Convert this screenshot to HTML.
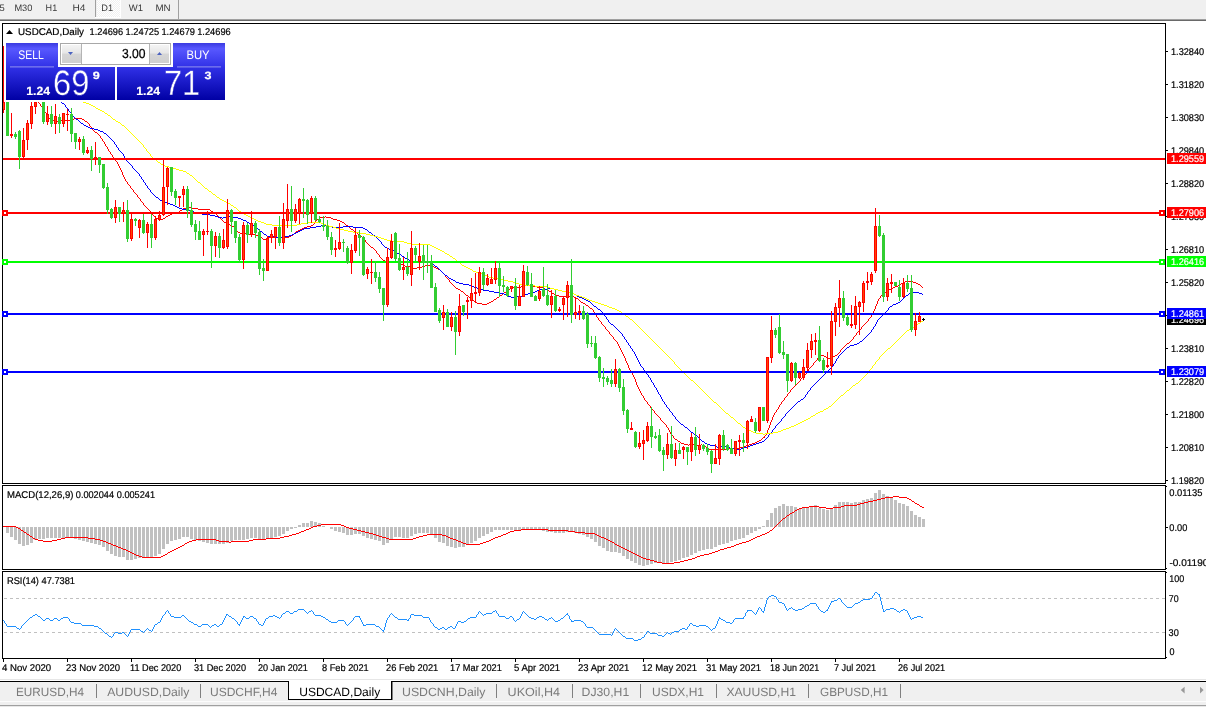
<!DOCTYPE html>
<html><head><meta charset="utf-8"><title>USDCAD,Daily</title>
<style>html,body{margin:0;padding:0;background:#fff;overflow:hidden}svg{display:block}text{white-space:pre}</style>
</head><body><svg width="1206" height="707" viewBox="0 0 1206 707" font-family="'Liberation Sans', Arial, sans-serif" text-rendering="geometricPrecision"><rect x="0" y="0" width="1206" height="19" fill="#f0f0f0"/>
<rect x="0" y="19" width="1206" height="1" fill="#a0a0a0"/>
<rect x="0" y="20" width="1206" height="1" fill="#696969"/>
<defs><pattern id="chk" width="2" height="2" patternUnits="userSpaceOnUse"><rect width="2" height="2" fill="#f0f0f0"/><rect width="1" height="1" fill="#fff"/><rect x="1" y="1" width="1" height="1" fill="#fff"/></pattern></defs>
<rect x="97" y="0" width="23" height="17" fill="url(#chk)" shape-rendering="crispEdges"/>
<rect x="95" y="17" width="26" height="1" fill="#fff" shape-rendering="crispEdges"/>
<rect x="120" y="0" width="1" height="18" fill="#fff" shape-rendering="crispEdges"/>
<rect x="95" y="0" width="1" height="17" fill="#a0a0a0"/>
<rect x="178" y="0" width="1" height="19" fill="#a0a0a0"/>
<text x="-0.5" y="10.8" font-size="9.3" fill="#3a3a3a" textLength="5.2" lengthAdjust="spacingAndGlyphs">5</text>
<text x="14.4" y="10.8" font-size="9.3" fill="#3a3a3a" textLength="18" lengthAdjust="spacingAndGlyphs">M30</text>
<text x="45.6" y="10.8" font-size="9.3" fill="#3a3a3a" textLength="11.6" lengthAdjust="spacingAndGlyphs">H1</text>
<text x="72.4" y="10.8" font-size="9.3" fill="#3a3a3a" textLength="13" lengthAdjust="spacingAndGlyphs">H4</text>
<text x="101.3" y="10.8" font-size="9.3" fill="#3a3a3a" textLength="11.8" lengthAdjust="spacingAndGlyphs">D1</text>
<text x="128.8" y="10.8" font-size="9.3" fill="#3a3a3a" textLength="14.2" lengthAdjust="spacingAndGlyphs">W1</text>
<text x="155.4" y="10.8" font-size="9.3" fill="#3a3a3a" textLength="15.2" lengthAdjust="spacingAndGlyphs">MN</text>
<g shape-rendering="crispEdges">
<path d="M33 98h2v1h-2zM35 99h1v1h-1zM36 100h1v1h-1zM37 101h1v1h-1zM38 102h1v1h-1zM39 103h1v1h-1zM40 104h1v2h-1zM41 106h1v1h-1zM42 107h1v2h-1zM43 109h1v1h-1zM44 110h1v2h-1zM45 112h1v1h-1zM46 113h1v2h-1zM47 115h1v1h-1zM48 116h1v2h-1zM49 118h2v1h-2zM51 119h1v1h-1zM52 120h4v1h-4zM56 121h5v1h-5zM61 120h9v1h-9zM70 119h4v1h-4zM74 118h8v1h-8zM82 119h2v1h-2zM84 120h1v1h-1zM85 121h2v1h-2zM87 122h1v1h-1zM88 123h1v1h-1zM89 124h1v2h-1zM90 126h1v1h-1zM91 127h1v2h-1zM92 129h1v1h-1zM93 130h1v1h-1zM94 131h1v1h-1zM95 132h2v1h-2zM97 133h1v1h-1zM98 134h1v1h-1zM99 135h1v1h-1zM100 136h1v2h-1zM101 138h1v1h-1zM102 139h1v2h-1zM103 141h1v1h-1zM104 142h1v2h-1zM105 144h1v2h-1zM106 146h1v1h-1zM107 147h1v2h-1zM108 149h1v2h-1zM109 151h1v1h-1zM110 152h1v2h-1zM111 154h1v1h-1zM112 155h1v2h-1zM113 157h1v1h-1zM114 158h1v1h-1zM115 159h1v2h-1zM116 161h1v1h-1zM117 162h1v2h-1zM118 164h1v2h-1zM119 166h1v2h-1zM120 168h1v2h-1zM121 170h1v2h-1zM122 172h1v3h-1zM123 175h1v2h-1zM124 177h1v2h-1zM125 179h1v2h-1zM126 181h1v1h-1zM127 182h1v2h-1zM128 184h1v1h-1zM129 185h1v1h-1zM130 186h1v2h-1zM131 188h1v1h-1zM132 189h1v1h-1zM133 190h1v2h-1zM134 192h1v1h-1zM135 193h1v1h-1zM136 194h1v1h-1zM137 195h1v2h-1zM138 197h1v1h-1zM139 198h1v1h-1zM140 199h1v2h-1zM141 201h1v1h-1zM142 202h1v1h-1zM143 203h1v2h-1zM144 205h1v1h-1zM145 206h1v1h-1zM146 207h1v1h-1zM147 208h1v1h-1zM148 209h1v1h-1zM149 210h1v1h-1zM150 211h1v2h-1zM151 213h1v1h-1zM152 214h1v1h-1zM153 215h1v1h-1zM154 216h1v1h-1zM155 217h1v1h-1zM156 218h2v1h-2zM158 219h5v1h-5zM163 218h2v1h-2zM165 217h1v1h-1zM166 216h2v1h-2zM168 215h2v1h-2zM170 214h2v1h-2zM172 213h4v1h-4zM176 212h3v1h-3zM179 211h1v1h-1zM180 210h2v1h-2zM182 209h1v1h-1zM183 208h3v1h-3zM186 207h5v1h-5zM191 208h7v1h-7zM198 209h12v1h-12zM210 210h1v1h-1zM211 211h2v1h-2zM213 212h2v1h-2zM215 213h1v1h-1zM216 214h1v1h-1zM217 215h1v1h-1zM218 216h1v1h-1zM219 217h1v1h-1zM220 218h1v1h-1zM221 219h1v1h-1zM222 220h1v1h-1zM223 221h1v1h-1zM224 222h3v1h-3zM227 223h1v1h-1zM228 224h2v1h-2zM230 225h1v1h-1zM231 226h3v1h-3zM234 227h1v1h-1zM235 228h1v1h-1zM236 229h1v2h-1zM237 231h1v1h-1zM238 232h2v1h-2zM240 233h8v1h-8zM248 234h8v1h-8zM256 235h3v1h-3zM259 236h2v1h-2zM261 237h1v1h-1zM262 238h1v1h-1zM263 239h4v1h-4zM267 238h1v1h-1zM268 237h21v1h-21zM289 236h2v1h-2zM291 235h2v1h-2zM293 234h1v1h-1zM294 233h1v1h-1zM295 232h1v1h-1zM296 231h2v1h-2zM298 230h2v1h-2zM300 229h2v1h-2zM302 228h2v1h-2zM304 227h3v1h-3zM307 226h4v1h-4zM311 225h2v1h-2zM313 224h1v1h-1zM314 223h1v1h-1zM315 221h1v2h-1zM316 220h1v1h-1zM317 219h2v1h-2zM319 218h1v1h-1zM320 217h5v1h-5zM325 216h1v1h-1zM326 217h5v1h-5zM331 218h2v1h-2zM333 219h4v1h-4zM337 220h3v1h-3zM340 221h2v1h-2zM342 222h2v1h-2zM344 223h1v1h-1zM345 224h1v1h-1zM346 225h2v1h-2zM348 226h1v1h-1zM349 227h1v1h-1zM350 228h1v1h-1zM351 229h2v1h-2zM353 230h1v1h-1zM354 231h1v1h-1zM355 232h2v1h-2zM357 233h1v1h-1zM358 234h2v1h-2zM360 235h1v1h-1zM361 236h1v1h-1zM362 237h1v1h-1zM363 238h1v1h-1zM364 239h1v1h-1zM365 240h1v2h-1zM366 242h1v1h-1zM367 243h1v1h-1zM368 244h1v1h-1zM369 245h1v1h-1zM370 246h1v1h-1zM371 247h2v1h-2zM373 248h1v1h-1zM374 249h1v1h-1zM375 250h1v1h-1zM376 251h1v2h-1zM377 253h1v1h-1zM378 254h1v1h-1zM379 255h1v2h-1zM380 257h1v1h-1zM381 258h1v1h-1zM382 259h1v1h-1zM383 260h2v1h-2zM385 261h11v1h-11zM396 262h3v1h-3zM399 263h2v1h-2zM401 264h2v1h-2zM403 265h2v1h-2zM405 266h5v1h-5zM410 267h2v1h-2zM412 268h5v1h-5zM417 267h5v1h-5zM422 266h3v1h-3zM425 265h7v1h-7zM432 266h2v1h-2zM434 267h2v1h-2zM436 268h2v1h-2zM438 269h2v1h-2zM440 270h1v1h-1zM441 271h1v1h-1zM442 272h1v1h-1zM443 273h1v1h-1zM444 274h1v1h-1zM445 275h1v2h-1zM446 277h1v1h-1zM447 278h1v1h-1zM448 279h1v1h-1zM449 280h1v2h-1zM450 282h1v1h-1zM451 283h1v1h-1zM452 284h1v1h-1zM453 285h1v1h-1zM454 286h1v1h-1zM455 287h1v1h-1zM456 288h2v1h-2zM458 289h2v1h-2zM460 290h1v1h-1zM461 291h2v1h-2zM463 292h1v1h-1zM464 293h1v1h-1zM465 294h1v1h-1zM466 295h2v1h-2zM468 296h1v1h-1zM469 297h1v1h-1zM470 298h1v1h-1zM471 299h1v1h-1zM472 300h2v1h-2zM474 301h1v1h-1zM475 302h2v1h-2zM477 303h5v1h-5zM482 304h5v1h-5zM487 303h2v1h-2zM489 302h2v1h-2zM491 301h2v1h-2zM493 300h1v1h-1zM494 299h2v1h-2zM496 298h1v1h-1zM497 297h2v1h-2zM499 296h1v1h-1zM500 295h2v1h-2zM502 294h1v1h-1zM503 293h1v1h-1zM504 292h2v1h-2zM506 291h1v1h-1zM507 290h1v1h-1zM508 289h2v1h-2zM510 288h2v1h-2zM512 287h9v1h-9zM521 286h3v1h-3zM524 285h9v1h-9zM533 286h4v1h-4zM537 287h6v1h-6zM543 288h2v1h-2zM545 289h2v1h-2zM547 290h2v1h-2zM549 291h2v1h-2zM551 292h1v1h-1zM552 293h2v1h-2zM554 294h2v1h-2zM556 295h3v1h-3zM559 296h15v1h-15zM574 297h2v1h-2zM576 298h2v1h-2zM578 299h1v1h-1zM579 300h1v1h-1zM580 301h1v1h-1zM581 302h2v1h-2zM583 303h2v1h-2zM585 304h1v1h-1zM586 305h2v1h-2zM588 306h1v1h-1zM589 307h1v1h-1zM590 308h2v1h-2zM592 309h1v1h-1zM593 310h1v2h-1zM594 312h1v2h-1zM595 314h1v1h-1zM596 315h1v2h-1zM597 317h1v1h-1zM598 318h1v2h-1zM599 320h1v1h-1zM600 321h1v1h-1zM601 322h1v2h-1zM602 324h1v1h-1zM603 325h1v1h-1zM604 326h1v1h-1zM605 327h1v2h-1zM606 329h1v1h-1zM607 330h1v1h-1zM608 331h1v1h-1zM609 332h1v2h-1zM610 334h1v1h-1zM611 335h1v1h-1zM612 336h1v1h-1zM613 337h1v2h-1zM614 339h1v1h-1zM615 340h1v1h-1zM616 341h1v1h-1zM617 342h1v2h-1zM618 344h1v2h-1zM619 346h1v2h-1zM620 348h1v2h-1zM621 350h1v2h-1zM622 352h1v2h-1zM623 354h1v2h-1zM624 356h1v2h-1zM625 358h1v3h-1zM626 361h1v2h-1zM627 363h1v2h-1zM628 365h1v3h-1zM629 368h1v2h-1zM630 370h1v2h-1zM631 372h1v1h-1zM632 373h1v2h-1zM633 375h1v2h-1zM634 377h1v2h-1zM635 379h1v3h-1zM636 382h1v3h-1zM637 385h1v2h-1zM638 387h1v2h-1zM639 389h1v2h-1zM640 391h1v2h-1zM641 393h1v2h-1zM642 395h1v1h-1zM643 396h1v2h-1zM644 398h1v2h-1zM645 400h1v1h-1zM646 401h1v1h-1zM647 402h1v2h-1zM648 404h1v1h-1zM649 405h1v1h-1zM650 406h1v2h-1zM651 408h1v1h-1zM652 409h1v1h-1zM653 410h1v1h-1zM654 411h1v2h-1zM655 413h1v1h-1zM656 414h1v1h-1zM657 415h1v1h-1zM658 416h1v1h-1zM659 417h1v1h-1zM660 418h1v2h-1zM661 420h1v1h-1zM662 421h1v1h-1zM663 422h1v1h-1zM664 423h1v1h-1zM665 424h1v1h-1zM666 425h1v2h-1zM667 427h1v1h-1zM668 428h1v2h-1zM669 430h1v2h-1zM670 432h1v2h-1zM671 434h1v1h-1zM672 435h1v1h-1zM673 436h1v2h-1zM674 438h1v1h-1zM675 439h2v1h-2zM677 440h1v1h-1zM678 441h2v1h-2zM680 442h1v1h-1zM681 443h3v1h-3zM684 444h4v1h-4zM688 445h1v1h-1zM689 444h5v1h-5zM694 445h7v1h-7zM701 444h1v1h-1zM702 445h2v1h-2zM704 446h2v1h-2zM706 447h1v1h-1zM707 448h2v1h-2zM709 449h20v1h-20zM729 448h11v1h-11zM740 447h3v1h-3zM743 446h3v1h-3zM746 445h3v1h-3zM749 444h3v1h-3zM752 443h3v1h-3zM755 442h2v1h-2zM757 441h2v1h-2zM759 440h2v1h-2zM761 439h1v1h-1zM762 438h1v1h-1zM763 437h1v1h-1zM764 436h1v2h-1zM765 435h1v1h-1zM766 433h1v2h-1zM767 430h1v3h-1zM768 428h1v2h-1zM769 425h1v3h-1zM770 422h1v3h-1zM771 420h1v2h-1zM772 417h1v3h-1zM773 415h1v2h-1zM774 413h1v2h-1zM775 412h1v1h-1zM776 410h1v2h-1zM777 409h1v1h-1zM778 407h1v2h-1zM779 405h1v2h-1zM780 404h1v1h-1zM781 402h1v2h-1zM782 401h1v1h-1zM783 400h1v1h-1zM784 398h1v2h-1zM785 397h1v1h-1zM786 396h1v1h-1zM787 394h1v2h-1zM788 393h1v1h-1zM789 392h1v1h-1zM790 390h1v2h-1zM791 389h1v1h-1zM792 388h1v1h-1zM793 387h1v1h-1zM794 386h1v1h-1zM795 385h1v1h-1zM796 384h1v1h-1zM797 383h1v1h-1zM798 382h1v1h-1zM799 381h1v1h-1zM800 379h1v2h-1zM801 378h1v1h-1zM802 377h1v1h-1zM803 376h1v1h-1zM804 375h1v1h-1zM805 374h1v1h-1zM806 372h1v2h-1zM807 371h1v1h-1zM808 369h1v2h-1zM809 368h1v1h-1zM810 367h1v1h-1zM811 366h1v1h-1zM812 365h1v1h-1zM813 363h1v2h-1zM814 362h1v1h-1zM815 361h1v1h-1zM816 360h1v1h-1zM817 358h1v2h-1zM818 357h1v1h-1zM819 356h1v1h-1zM820 355h4v1h-4zM824 356h2v1h-2zM826 357h1v1h-1zM827 358h5v1h-5zM832 357h1v1h-1zM833 356h2v1h-2zM835 355h2v1h-2zM837 354h1v1h-1zM838 353h1v1h-1zM839 352h1v1h-1zM840 350h1v2h-1zM841 349h1v1h-1zM842 348h1v1h-1zM843 347h1v1h-1zM844 346h1v1h-1zM845 345h1v1h-1zM846 344h1v1h-1zM847 343h2v1h-2zM849 342h1v1h-1zM850 341h1v1h-1zM851 340h1v1h-1zM852 339h1v1h-1zM853 337h1v2h-1zM854 336h1v1h-1zM855 335h1v1h-1zM856 333h1v2h-1zM857 332h1v1h-1zM858 331h1v1h-1zM859 330h1v1h-1zM860 329h1v1h-1zM861 327h1v2h-1zM862 326h1v1h-1zM863 325h1v1h-1zM864 324h1v1h-1zM865 323h1v1h-1zM866 322h1v1h-1zM867 321h1v1h-1zM868 319h1v2h-1zM869 318h1v1h-1zM870 317h1v1h-1zM871 315h1v2h-1zM872 313h1v2h-1zM873 311h1v2h-1zM874 309h1v2h-1zM875 306h1v3h-1zM876 304h1v2h-1zM877 301h1v3h-1zM878 299h1v2h-1zM879 298h1v1h-1zM880 296h1v2h-1zM881 295h1v1h-1zM882 294h2v1h-2zM884 293h1v1h-1zM885 292h1v1h-1zM886 291h2v1h-2zM888 290h1v1h-1zM889 289h2v1h-2zM891 288h2v1h-2zM893 287h2v1h-2zM895 286h3v1h-3zM898 285h2v1h-2zM900 284h1v1h-1zM901 283h2v1h-2zM903 282h2v1h-2zM905 281h8v1h-8zM913 282h3v1h-3zM916 283h2v1h-2zM918 284h2v1h-2zM920 285h1v1h-1zM921 286h1v1h-1zM922 287h1v1h-1z" fill="#ff0000"/>
<path d="M56 98h1v1h-1zM57 99h2v1h-2zM59 100h1v1h-1zM60 101h1v1h-1zM61 102h1v1h-1zM62 103h2v1h-2zM64 104h1v1h-1zM65 105h1v2h-1zM66 107h1v1h-1zM67 108h1v1h-1zM68 109h1v2h-1zM69 111h1v1h-1zM70 112h1v1h-1zM71 113h1v1h-1zM72 114h1v2h-1zM73 116h1v1h-1zM74 117h1v1h-1zM75 118h1v1h-1zM76 119h2v1h-2zM78 120h1v1h-1zM79 121h1v1h-1zM80 122h1v1h-1zM81 123h2v1h-2zM83 124h1v1h-1zM84 125h2v1h-2zM86 126h2v1h-2zM88 127h2v1h-2zM90 128h4v1h-4zM94 129h4v1h-4zM98 130h2v1h-2zM100 131h3v1h-3zM103 132h1v1h-1zM104 133h2v1h-2zM106 134h1v1h-1zM107 135h1v1h-1zM108 136h1v1h-1zM109 137h1v1h-1zM110 138h1v1h-1zM111 139h1v1h-1zM112 140h1v1h-1zM113 141h1v1h-1zM114 142h1v2h-1zM115 144h1v1h-1zM116 145h1v2h-1zM117 147h1v1h-1zM118 148h1v2h-1zM119 150h1v1h-1zM120 151h1v1h-1zM121 152h1v1h-1zM122 153h1v1h-1zM123 154h1v2h-1zM124 156h1v2h-1zM125 158h1v1h-1zM126 159h1v2h-1zM127 161h1v1h-1zM128 162h1v1h-1zM129 163h1v1h-1zM130 164h1v1h-1zM131 165h1v1h-1zM132 166h1v2h-1zM133 168h1v1h-1zM134 169h1v1h-1zM135 170h1v1h-1zM136 171h1v1h-1zM137 172h1v1h-1zM138 173h1v1h-1zM139 174h1v2h-1zM140 176h1v1h-1zM141 177h1v2h-1zM142 179h1v1h-1zM143 180h1v2h-1zM144 182h1v1h-1zM145 183h1v2h-1zM146 185h1v1h-1zM147 186h1v2h-1zM148 188h1v1h-1zM149 189h1v1h-1zM150 190h1v2h-1zM151 192h1v1h-1zM152 193h1v1h-1zM153 194h1v1h-1zM154 195h1v1h-1zM155 196h1v1h-1zM156 197h2v1h-2zM158 198h1v1h-1zM159 199h1v1h-1zM160 200h3v1h-3zM163 201h2v1h-2zM165 202h3v1h-3zM168 203h2v1h-2zM170 204h3v1h-3zM173 205h2v1h-2zM175 206h2v1h-2zM177 207h2v1h-2zM179 208h3v1h-3zM182 209h4v1h-4zM186 210h4v1h-4zM190 211h4v1h-4zM194 212h4v1h-4zM198 213h4v1h-4zM202 214h8v1h-8zM210 215h5v1h-5zM215 216h3v1h-3zM218 217h4v1h-4zM222 218h1v1h-1zM223 217h6v1h-6zM229 216h3v1h-3zM232 217h6v1h-6zM238 218h3v1h-3zM241 219h2v1h-2zM243 220h3v1h-3zM246 221h1v1h-1zM247 222h2v1h-2zM249 223h1v1h-1zM250 224h2v1h-2zM252 225h2v1h-2zM254 226h1v1h-1zM255 227h1v1h-1zM256 228h2v1h-2zM258 229h1v1h-1zM259 230h1v1h-1zM260 231h2v1h-2zM262 232h1v1h-1zM263 233h1v1h-1zM264 234h2v1h-2zM266 235h1v1h-1zM267 236h8v1h-8zM275 237h7v1h-7zM282 236h7v1h-7zM289 235h3v1h-3zM292 234h2v1h-2zM294 233h2v1h-2zM296 232h2v1h-2zM298 231h2v1h-2zM300 230h2v1h-2zM302 229h2v1h-2zM304 228h6v1h-6zM310 227h6v1h-6zM316 226h5v1h-5zM321 225h5v1h-5zM326 226h6v1h-6zM332 227h11v1h-11zM343 226h10v1h-10zM353 227h10v1h-10zM363 228h2v1h-2zM365 229h2v1h-2zM367 230h1v1h-1zM368 231h1v1h-1zM369 232h2v1h-2zM371 233h1v1h-1zM372 234h1v1h-1zM373 235h2v1h-2zM375 236h1v1h-1zM376 237h1v1h-1zM377 238h1v1h-1zM378 239h1v1h-1zM379 240h1v1h-1zM380 241h1v1h-1zM381 242h1v2h-1zM382 244h1v1h-1zM383 245h1v1h-1zM384 246h1v1h-1zM385 247h2v1h-2zM387 248h2v1h-2zM389 249h4v1h-4zM393 250h2v1h-2zM395 251h1v1h-1zM396 252h1v1h-1zM397 253h2v1h-2zM399 254h2v1h-2zM401 255h1v1h-1zM402 256h2v1h-2zM404 257h1v1h-1zM405 258h2v1h-2zM407 259h2v1h-2zM409 260h3v1h-3zM412 261h14v1h-14zM426 262h4v1h-4zM430 263h3v1h-3zM433 264h1v1h-1zM434 265h1v1h-1zM435 266h2v1h-2zM437 267h1v1h-1zM438 268h1v1h-1zM439 269h1v1h-1zM440 270h1v1h-1zM441 271h1v1h-1zM442 272h1v1h-1zM443 273h1v1h-1zM444 274h1v1h-1zM445 275h2v1h-2zM447 276h1v1h-1zM448 277h1v1h-1zM449 278h2v1h-2zM451 279h2v1h-2zM453 280h2v1h-2zM455 281h1v1h-1zM456 282h3v1h-3zM459 283h4v1h-4zM463 284h6v1h-6zM469 285h3v1h-3zM472 286h2v1h-2zM474 287h3v1h-3zM477 288h3v1h-3zM480 289h3v1h-3zM483 290h6v1h-6zM489 291h5v1h-5zM494 292h6v1h-6zM500 293h4v1h-4zM504 294h2v1h-2zM506 295h2v1h-2zM508 296h3v1h-3zM511 297h6v1h-6zM517 296h5v1h-5zM522 295h3v1h-3zM525 294h3v1h-3zM528 293h3v1h-3zM531 292h4v1h-4zM535 291h2v1h-2zM537 290h3v1h-3zM540 289h8v1h-8zM548 288h3v1h-3z" fill="#0000ff"/>
<path d="M577 296h2v1h-2zM579 297h3v1h-3zM582 298h2v1h-2zM584 299h2v1h-2zM586 300h2v1h-2zM588 301h2v1h-2zM590 302h1v1h-1zM591 303h1v1h-1zM592 304h1v1h-1zM593 305h1v1h-1zM594 306h2v1h-2zM596 307h1v1h-1zM597 308h1v1h-1zM598 309h2v1h-2zM600 310h1v1h-1zM601 311h1v1h-1zM602 312h1v2h-1zM603 314h1v1h-1zM604 315h1v1h-1zM605 316h1v1h-1zM606 317h1v2h-1zM607 319h1v1h-1zM608 320h1v2h-1zM609 322h1v1h-1zM610 323h1v1h-1zM611 324h2v1h-2zM613 325h1v1h-1zM614 326h1v1h-1zM615 327h1v1h-1zM616 328h1v1h-1zM617 329h1v1h-1zM618 330h1v1h-1zM619 331h1v1h-1zM620 332h1v1h-1zM621 333h1v1h-1zM622 334h1v2h-1zM623 336h1v1h-1zM624 337h1v2h-1zM625 339h1v1h-1zM626 340h1v2h-1zM627 342h1v1h-1zM628 343h1v2h-1zM629 345h1v1h-1zM630 346h1v2h-1zM631 348h1v1h-1zM632 349h1v2h-1zM633 351h1v1h-1zM634 352h1v2h-1zM635 354h1v2h-1zM636 356h1v2h-1zM637 358h1v2h-1zM638 360h1v2h-1zM639 362h1v2h-1zM640 364h1v2h-1zM641 366h1v1h-1zM642 367h1v1h-1zM643 368h1v2h-1zM644 370h1v1h-1zM645 371h1v1h-1zM646 372h1v2h-1zM647 374h1v1h-1zM648 375h1v2h-1zM649 377h1v1h-1zM650 378h1v2h-1zM651 380h1v2h-1zM652 382h1v1h-1zM653 383h1v2h-1zM654 385h1v2h-1zM655 387h1v1h-1zM656 388h1v2h-1zM657 390h1v2h-1zM658 392h1v2h-1zM659 394h1v1h-1zM660 395h1v2h-1zM661 397h1v2h-1zM662 399h1v2h-1zM663 401h1v1h-1zM664 402h1v2h-1zM665 404h1v1h-1zM666 405h1v2h-1zM667 407h1v1h-1zM668 408h1v1h-1zM669 409h1v2h-1zM670 411h1v1h-1zM671 412h1v1h-1zM672 413h1v2h-1zM673 415h1v1h-1zM674 416h1v1h-1zM675 417h1v2h-1zM676 419h1v1h-1zM677 420h1v1h-1zM678 421h1v1h-1zM679 422h1v1h-1zM680 423h1v1h-1zM681 424h2v1h-2zM683 425h1v1h-1zM684 426h1v1h-1zM685 427h2v1h-2zM687 428h1v1h-1zM688 429h1v1h-1zM689 430h1v1h-1zM690 431h1v1h-1zM691 432h2v1h-2zM693 433h1v1h-1zM694 434h2v1h-2zM696 435h1v1h-1zM697 436h1v1h-1zM698 437h1v1h-1zM699 438h1v1h-1zM700 439h1v1h-1zM701 440h1v1h-1zM702 441h2v1h-2zM704 442h1v1h-1zM705 443h2v1h-2zM707 444h3v1h-3zM710 445h5v1h-5zM715 446h2v1h-2zM717 447h2v1h-2zM719 446h9v1h-9zM728 447h2v1h-2zM730 448h7v1h-7zM737 449h4v1h-4zM741 448h3v1h-3zM744 447h3v1h-3zM747 446h3v1h-3zM750 445h3v1h-3zM753 444h3v1h-3zM756 443h3v1h-3zM759 442h3v1h-3zM762 441h2v1h-2zM764 440h1v1h-1zM765 439h1v1h-1zM766 438h1v1h-1zM767 437h1v1h-1zM768 435h1v2h-1zM769 434h1v1h-1zM770 433h1v1h-1zM771 432h1v1h-1zM772 430h1v2h-1zM773 429h1v1h-1zM774 428h1v1h-1zM775 426h1v2h-1zM776 425h1v1h-1zM777 424h1v1h-1zM778 423h1v1h-1zM779 422h1v1h-1zM780 421h1v1h-1zM781 419h1v2h-1zM782 418h1v1h-1zM783 417h1v1h-1zM784 416h1v1h-1zM785 414h1v2h-1zM786 413h1v1h-1zM787 412h1v1h-1zM788 411h1v1h-1zM789 410h1v1h-1zM790 409h1v1h-1zM791 408h1v1h-1zM792 407h1v1h-1zM793 406h1v1h-1zM794 405h1v1h-1zM795 404h1v1h-1zM796 403h1v1h-1zM797 402h1v1h-1zM798 401h2v1h-2zM800 400h1v1h-1zM801 399h2v1h-2zM803 398h1v1h-1zM804 397h1v1h-1zM805 395h1v2h-1zM806 394h1v1h-1zM807 392h1v2h-1zM808 391h1v1h-1zM809 390h1v1h-1zM810 388h1v2h-1zM811 387h1v1h-1zM812 386h1v1h-1zM813 385h1v1h-1zM814 384h1v1h-1zM815 383h1v1h-1zM816 382h1v1h-1zM817 381h1v1h-1zM818 380h1v1h-1zM819 379h1v1h-1zM820 378h1v1h-1zM821 377h1v1h-1zM822 376h1v1h-1zM823 375h1v1h-1zM824 374h1v1h-1zM825 373h1v1h-1zM826 372h1v1h-1zM827 371h1v1h-1zM828 370h1v1h-1zM829 369h1v1h-1zM830 368h1v1h-1zM831 367h1v1h-1zM832 366h1v1h-1zM833 364h1v2h-1zM834 363h1v1h-1zM835 361h1v2h-1zM836 359h1v2h-1zM837 358h1v1h-1zM838 356h1v2h-1zM839 355h1v1h-1zM840 354h1v1h-1zM841 353h1v1h-1zM842 352h1v1h-1zM843 351h1v1h-1zM844 350h1v1h-1zM845 349h1v1h-1zM846 348h1v1h-1zM847 347h2v1h-2zM849 346h1v1h-1zM850 345h4v1h-4zM854 344h3v1h-3zM857 343h2v1h-2zM859 342h1v1h-1zM860 341h2v1h-2zM862 340h1v1h-1zM863 339h1v1h-1zM864 338h1v1h-1zM865 337h1v1h-1zM866 336h1v1h-1zM867 335h1v1h-1zM868 334h1v1h-1zM869 333h1v1h-1zM870 332h1v1h-1zM871 330h1v2h-1zM872 329h1v1h-1zM873 327h1v2h-1zM874 326h1v1h-1zM875 324h1v2h-1zM876 322h1v2h-1zM877 320h1v2h-1zM878 319h1v1h-1zM879 318h1v1h-1zM880 317h1v1h-1zM881 316h1v1h-1zM882 315h1v1h-1zM883 314h1v1h-1zM884 313h1v1h-1zM885 312h1v1h-1zM886 311h1v1h-1zM887 310h1v1h-1zM888 308h1v2h-1zM889 307h1v1h-1zM890 306h2v1h-2zM892 305h1v1h-1zM893 304h3v1h-3zM896 303h2v1h-2zM898 302h2v1h-2zM900 301h1v1h-1zM901 300h1v1h-1zM902 299h1v1h-1zM903 298h1v1h-1zM904 297h1v1h-1zM905 296h1v1h-1zM906 295h2v1h-2zM908 294h1v1h-1zM909 293h2v1h-2zM911 292h8v1h-8zM919 293h3v1h-3zM922 294h1v1h-1z" fill="#0000ff"/>
<path d="M74 99h1v1h-1zM75 100h4v1h-4zM79 101h4v1h-4zM83 102h3v1h-3zM86 103h3v1h-3zM89 104h2v1h-2zM91 105h2v1h-2zM93 106h2v1h-2zM95 107h1v1h-1zM96 108h2v1h-2zM98 109h2v1h-2zM100 110h2v1h-2zM102 111h2v1h-2zM104 112h1v1h-1zM105 113h2v1h-2zM107 114h1v1h-1zM108 115h2v1h-2zM110 116h1v1h-1zM111 117h1v1h-1zM112 118h1v1h-1zM113 119h2v1h-2zM115 120h1v1h-1zM116 121h2v1h-2zM118 122h2v1h-2zM120 123h1v1h-1zM121 124h1v1h-1zM122 125h2v1h-2zM124 126h1v1h-1zM125 127h1v1h-1zM126 128h1v1h-1zM127 129h1v1h-1zM128 130h1v1h-1zM129 131h1v1h-1zM130 132h1v1h-1zM131 133h1v1h-1zM132 134h1v1h-1zM133 135h1v1h-1zM134 136h1v1h-1zM135 137h1v1h-1zM136 138h1v1h-1zM137 139h1v1h-1zM138 140h1v1h-1zM139 141h1v1h-1zM140 142h1v1h-1zM141 143h1v1h-1zM142 144h1v1h-1zM143 145h1v2h-1zM144 147h1v1h-1zM145 148h1v1h-1zM146 149h1v2h-1zM147 151h1v1h-1zM148 152h1v1h-1zM149 153h1v1h-1zM150 154h1v2h-1zM151 156h1v1h-1zM152 157h1v1h-1zM153 158h1v1h-1zM154 159h2v1h-2zM156 160h1v1h-1zM157 161h1v1h-1zM158 162h2v1h-2zM160 163h1v1h-1zM161 164h2v1h-2zM163 165h2v1h-2zM165 166h4v1h-4zM169 167h3v1h-3zM172 168h4v1h-4zM176 169h3v1h-3zM179 170h4v1h-4zM183 171h3v1h-3zM186 172h1v1h-1zM187 173h2v1h-2zM189 174h1v1h-1zM190 175h2v1h-2zM192 176h1v1h-1zM193 177h1v1h-1zM194 178h1v1h-1zM195 179h1v1h-1zM196 180h1v1h-1zM197 181h1v1h-1zM198 182h2v1h-2zM200 183h1v1h-1zM201 184h1v1h-1zM202 185h1v1h-1zM203 186h1v1h-1zM204 187h1v1h-1zM205 188h2v1h-2zM207 189h1v1h-1zM208 190h1v1h-1zM209 191h2v1h-2zM211 192h1v1h-1zM212 193h1v1h-1zM213 194h2v1h-2zM215 195h1v1h-1zM216 196h1v1h-1zM217 197h2v1h-2zM219 198h1v1h-1zM220 199h2v1h-2zM222 200h2v1h-2zM224 201h2v1h-2zM226 202h2v1h-2zM228 203h2v1h-2zM230 204h1v1h-1zM231 205h2v1h-2zM233 206h1v1h-1zM234 207h2v1h-2zM236 208h1v1h-1zM237 209h1v1h-1zM238 210h1v1h-1zM239 211h2v1h-2zM241 212h1v1h-1zM242 213h2v1h-2zM244 214h2v1h-2zM246 215h2v1h-2zM248 216h2v1h-2zM250 217h2v1h-2zM252 218h2v1h-2zM254 219h2v1h-2zM256 220h2v1h-2zM258 221h3v1h-3zM261 222h3v1h-3zM264 223h2v1h-2zM266 224h6v1h-6zM272 225h25v1h-25zM297 224h4v1h-4zM301 223h7v1h-7zM308 222h13v1h-13zM321 223h3v1h-3zM324 224h2v1h-2zM326 225h3v1h-3zM329 226h4v1h-4zM333 227h3v1h-3zM336 228h4v1h-4zM340 229h4v1h-4zM344 230h4v1h-4zM348 231h5v1h-5zM353 232h7v1h-7zM360 233h6v1h-6zM366 234h4v1h-4zM370 235h4v1h-4zM374 236h4v1h-4zM378 237h3v1h-3zM381 238h3v1h-3zM384 239h3v1h-3zM387 240h5v1h-5zM392 241h12v1h-12zM404 242h3v1h-3zM407 243h5v1h-5zM412 244h18v1h-18zM430 245h2v1h-2zM432 246h2v1h-2zM434 247h2v1h-2zM436 248h2v1h-2zM438 249h2v1h-2zM440 250h2v1h-2zM442 251h2v1h-2zM444 252h1v1h-1zM445 253h2v1h-2zM447 254h2v1h-2zM449 255h1v1h-1zM450 256h2v1h-2zM452 257h1v1h-1zM453 258h2v1h-2zM455 259h1v1h-1zM456 260h1v1h-1zM457 261h1v1h-1zM458 262h2v1h-2zM460 263h1v1h-1zM461 264h1v1h-1zM462 265h2v1h-2zM464 266h2v1h-2zM466 267h2v1h-2zM468 268h2v1h-2zM470 269h2v1h-2zM472 270h1v1h-1zM473 271h3v1h-3zM476 272h3v1h-3zM479 273h3v1h-3zM482 274h2v1h-2zM484 275h3v1h-3zM487 276h2v1h-2zM489 277h4v1h-4zM493 278h6v1h-6zM499 279h4v1h-4zM503 280h5v1h-5zM508 281h5v1h-5zM513 282h3v1h-3zM516 283h3v1h-3zM519 284h5v1h-5zM524 285h11v1h-11zM535 286h12v1h-12zM547 287h3v1h-3zM550 288h4v1h-4zM554 289h4v1h-4zM558 290h4v1h-4zM562 291h5v1h-5zM567 292h4v1h-4zM571 293h3v1h-3zM574 294h2v1h-2zM576 295h3v1h-3zM579 296h3v1h-3zM582 297h3v1h-3zM585 298h2v1h-2zM587 299h2v1h-2zM589 300h3v1h-3zM592 301h3v1h-3zM595 302h3v1h-3zM598 303h3v1h-3zM601 304h3v1h-3zM604 305h3v1h-3zM607 306h2v1h-2zM609 307h3v1h-3zM612 308h3v1h-3zM615 309h2v1h-2zM617 310h2v1h-2zM619 311h2v1h-2zM621 312h1v1h-1zM622 313h1v1h-1zM623 314h2v1h-2zM625 315h1v1h-1zM626 316h2v1h-2zM628 317h1v1h-1zM629 318h1v1h-1zM630 319h2v1h-2zM632 320h1v1h-1zM633 321h1v1h-1zM634 322h1v1h-1zM635 323h1v1h-1zM636 324h1v1h-1zM637 325h1v1h-1zM638 326h1v1h-1zM639 327h1v1h-1zM640 328h1v1h-1zM641 329h1v1h-1zM642 330h1v1h-1zM643 331h1v1h-1zM644 332h1v1h-1zM645 333h1v1h-1zM646 334h1v1h-1zM647 335h1v1h-1zM648 336h1v1h-1zM649 337h1v1h-1zM650 338h1v1h-1zM651 339h1v1h-1zM652 340h1v1h-1zM653 341h1v1h-1zM654 342h1v1h-1zM655 343h1v1h-1zM656 344h1v1h-1zM657 345h1v1h-1zM658 346h1v1h-1zM659 347h1v1h-1zM660 348h1v1h-1zM661 349h1v1h-1zM662 350h1v1h-1zM663 351h1v1h-1zM664 352h1v1h-1zM665 353h1v1h-1zM666 354h1v1h-1zM667 355h1v1h-1zM668 356h1v1h-1zM669 357h1v1h-1zM670 358h1v1h-1zM671 359h1v1h-1zM672 360h1v1h-1zM673 361h1v1h-1zM674 362h1v2h-1zM675 364h1v1h-1zM676 365h1v1h-1zM677 366h1v1h-1zM678 367h1v1h-1zM679 368h1v1h-1zM680 369h1v1h-1zM681 370h1v1h-1zM682 371h1v1h-1zM683 372h1v1h-1zM684 373h1v1h-1zM685 374h1v1h-1zM686 375h1v1h-1zM687 376h1v1h-1zM688 377h1v1h-1zM689 378h1v1h-1zM690 379h1v1h-1zM691 380h2v1h-2zM693 381h1v1h-1zM694 382h1v1h-1zM695 383h1v1h-1zM696 384h1v1h-1zM697 385h1v1h-1zM698 386h1v1h-1zM699 387h1v1h-1zM700 388h1v1h-1zM701 389h1v1h-1zM702 390h1v1h-1zM703 391h1v1h-1zM704 392h1v1h-1zM705 393h1v1h-1zM706 394h1v1h-1zM707 395h1v1h-1zM708 396h1v1h-1zM709 397h1v1h-1zM710 398h1v1h-1zM711 399h1v1h-1zM712 400h1v1h-1zM713 401h1v1h-1zM714 402h2v1h-2zM716 403h1v1h-1zM717 404h1v1h-1zM718 405h1v1h-1zM719 406h1v1h-1zM720 407h1v1h-1zM721 408h1v1h-1zM722 409h1v1h-1zM723 410h1v1h-1zM724 411h1v1h-1zM725 412h1v1h-1zM726 413h2v1h-2zM728 414h1v1h-1zM729 415h1v1h-1zM730 416h1v1h-1zM731 417h2v1h-2zM733 418h1v1h-1zM734 419h1v1h-1zM735 420h1v1h-1zM736 421h1v1h-1zM737 422h1v1h-1zM738 423h2v1h-2zM740 424h1v1h-1zM741 425h1v1h-1zM742 426h1v1h-1zM743 427h2v1h-2zM745 428h2v1h-2zM747 429h2v1h-2zM749 430h2v1h-2zM751 431h2v1h-2zM753 432h3v1h-3zM756 433h7v1h-7zM763 434h2v1h-2zM765 433h8v1h-8zM773 432h5v1h-5zM778 431h3v1h-3zM781 430h2v1h-2zM783 429h3v1h-3zM786 428h3v1h-3zM789 427h2v1h-2zM791 426h3v1h-3zM794 425h2v1h-2zM796 424h2v1h-2zM798 423h2v1h-2zM800 422h2v1h-2zM802 421h2v1h-2zM804 420h2v1h-2zM806 419h2v1h-2zM808 418h2v1h-2zM810 417h1v1h-1zM811 416h2v1h-2zM813 415h2v1h-2zM815 414h1v1h-1zM816 413h2v1h-2zM818 412h2v1h-2zM820 411h3v1h-3zM823 410h1v1h-1zM824 409h2v1h-2zM826 408h2v1h-2zM828 407h1v1h-1zM829 406h2v1h-2zM831 405h1v1h-1zM832 404h1v1h-1zM833 403h1v1h-1zM834 402h1v1h-1zM835 401h1v1h-1zM836 400h1v1h-1zM837 399h1v1h-1zM838 398h1v1h-1zM839 397h1v1h-1zM840 396h1v1h-1zM841 395h2v1h-2zM843 394h1v1h-1zM844 393h1v1h-1zM845 392h1v1h-1zM846 391h1v1h-1zM847 390h2v1h-2zM849 389h1v1h-1zM850 388h1v1h-1zM851 387h1v1h-1zM852 386h1v1h-1zM853 385h2v1h-2zM855 384h1v1h-1zM856 383h2v1h-2zM858 382h1v1h-1zM859 381h1v1h-1zM860 380h1v1h-1zM861 379h1v1h-1zM862 378h1v1h-1zM863 377h1v1h-1zM864 376h1v1h-1zM865 375h1v1h-1zM866 374h1v1h-1zM867 372h1v2h-1zM868 371h1v1h-1zM869 370h1v1h-1zM870 369h1v1h-1zM871 368h1v1h-1zM872 366h1v2h-1zM873 365h1v1h-1zM874 364h1v1h-1zM875 362h1v2h-1zM876 361h1v1h-1zM877 360h1v1h-1zM878 359h1v1h-1zM879 357h1v2h-1zM880 356h1v1h-1zM881 355h1v1h-1zM882 354h1v1h-1zM883 353h1v1h-1zM884 352h1v1h-1zM885 351h1v1h-1zM886 350h1v1h-1zM887 349h1v1h-1zM888 348h2v1h-2zM890 347h1v1h-1zM891 346h1v1h-1zM892 345h1v1h-1zM893 344h1v1h-1zM894 343h1v1h-1zM895 342h1v1h-1zM896 341h1v1h-1zM897 340h1v1h-1zM898 339h1v1h-1zM899 338h1v1h-1zM900 337h1v1h-1zM901 336h1v1h-1zM902 335h1v1h-1zM903 334h1v1h-1zM904 333h1v1h-1zM905 332h1v1h-1zM906 331h1v1h-1zM907 330h2v1h-2zM909 329h2v1h-2zM911 328h2v1h-2zM913 327h2v1h-2zM915 326h1v1h-1zM916 325h1v1h-1zM917 324h1v1h-1zM918 323h2v1h-2zM920 322h1v1h-1zM921 321h2v1h-2z" fill="#ffff00"/>
<rect x="3" y="158" width="1162" height="2" fill="#ff0000"/>
<rect x="3" y="212" width="1162" height="2" fill="#ff0000"/>
<rect x="3" y="261" width="1162" height="2" fill="#00ff00"/>
<rect x="3" y="313" width="1162" height="2" fill="#0000ff"/>
<rect x="3" y="371" width="1162" height="2" fill="#0000ff"/>
<rect x="3" y="46" width="1" height="67" fill="#ff0000"/>
<rect x="2" y="102" width="3" height="8" fill="#ff0000"/>
<rect x="3" y="103" width="1" height="6" fill="#ff4500"/>
<rect x="7" y="102" width="1" height="34" fill="#32cd32"/>
<rect x="6" y="102" width="3" height="34" fill="#32cd32"/>
<rect x="11" y="113" width="1" height="25" fill="#ff0000"/>
<rect x="10" y="134" width="3" height="2" fill="#ff0000"/>
<rect x="15" y="132" width="1" height="7" fill="#32cd32"/>
<rect x="14" y="134" width="3" height="3" fill="#32cd32"/>
<rect x="19" y="130" width="1" height="39" fill="#32cd32"/>
<rect x="18" y="131" width="3" height="26" fill="#32cd32"/>
<rect x="23" y="128" width="1" height="31" fill="#ff0000"/>
<rect x="22" y="140" width="3" height="17" fill="#ff0000"/>
<rect x="23" y="141" width="1" height="15" fill="#ff4500"/>
<rect x="27" y="120" width="1" height="30" fill="#ff0000"/>
<rect x="26" y="123" width="3" height="17" fill="#ff0000"/>
<rect x="27" y="124" width="1" height="15" fill="#ff4500"/>
<rect x="31" y="102" width="1" height="27" fill="#ff0000"/>
<rect x="30" y="106" width="3" height="18" fill="#ff0000"/>
<rect x="31" y="107" width="1" height="16" fill="#ff4500"/>
<rect x="35" y="102" width="1" height="12" fill="#ff0000"/>
<rect x="34" y="102" width="3" height="5" fill="#ff0000"/>
<rect x="35" y="103" width="1" height="3" fill="#ff4500"/>
<rect x="43" y="102" width="1" height="22" fill="#32cd32"/>
<rect x="42" y="102" width="3" height="20" fill="#32cd32"/>
<rect x="47" y="106" width="1" height="19" fill="#ff0000"/>
<rect x="46" y="114" width="3" height="8" fill="#ff0000"/>
<rect x="47" y="115" width="1" height="6" fill="#ff4500"/>
<rect x="51" y="106" width="1" height="21" fill="#32cd32"/>
<rect x="50" y="114" width="3" height="10" fill="#32cd32"/>
<rect x="55" y="104" width="1" height="30" fill="#ff0000"/>
<rect x="54" y="116" width="3" height="8" fill="#ff0000"/>
<rect x="55" y="117" width="1" height="6" fill="#ff4500"/>
<rect x="59" y="114" width="1" height="19" fill="#32cd32"/>
<rect x="58" y="117" width="3" height="7" fill="#32cd32"/>
<rect x="63" y="113" width="1" height="14" fill="#ff0000"/>
<rect x="62" y="113" width="3" height="11" fill="#ff0000"/>
<rect x="63" y="114" width="1" height="9" fill="#ff4500"/>
<rect x="67" y="109" width="1" height="22" fill="#ff0000"/>
<rect x="66" y="114" width="3" height="1" fill="#ff0000"/>
<rect x="71" y="108" width="1" height="34" fill="#32cd32"/>
<rect x="70" y="114" width="3" height="20" fill="#32cd32"/>
<rect x="75" y="133" width="1" height="16" fill="#32cd32"/>
<rect x="74" y="133" width="3" height="9" fill="#32cd32"/>
<rect x="79" y="137" width="1" height="13" fill="#ff0000"/>
<rect x="78" y="139" width="3" height="3" fill="#ff0000"/>
<rect x="79" y="140" width="1" height="1" fill="#ff4500"/>
<rect x="83" y="136" width="1" height="19" fill="#32cd32"/>
<rect x="82" y="139" width="3" height="14" fill="#32cd32"/>
<rect x="87" y="147" width="1" height="7" fill="#ff0000"/>
<rect x="86" y="150" width="3" height="3" fill="#ff0000"/>
<rect x="87" y="151" width="1" height="1" fill="#ff4500"/>
<rect x="91" y="146" width="1" height="25" fill="#32cd32"/>
<rect x="90" y="150" width="3" height="9" fill="#32cd32"/>
<rect x="95" y="142" width="1" height="23" fill="#ff0000"/>
<rect x="94" y="157" width="3" height="2" fill="#ff0000"/>
<rect x="99" y="157" width="1" height="16" fill="#32cd32"/>
<rect x="98" y="157" width="3" height="8" fill="#32cd32"/>
<rect x="103" y="164" width="1" height="25" fill="#32cd32"/>
<rect x="102" y="164" width="3" height="24" fill="#32cd32"/>
<rect x="107" y="183" width="1" height="31" fill="#32cd32"/>
<rect x="106" y="187" width="3" height="23" fill="#32cd32"/>
<rect x="111" y="208" width="1" height="11" fill="#32cd32"/>
<rect x="110" y="209" width="3" height="9" fill="#32cd32"/>
<rect x="115" y="200" width="1" height="23" fill="#ff0000"/>
<rect x="114" y="207" width="3" height="11" fill="#ff0000"/>
<rect x="115" y="208" width="1" height="9" fill="#ff4500"/>
<rect x="119" y="207" width="1" height="15" fill="#32cd32"/>
<rect x="118" y="207" width="3" height="7" fill="#32cd32"/>
<rect x="123" y="202" width="1" height="20" fill="#ff0000"/>
<rect x="122" y="210" width="3" height="4" fill="#ff0000"/>
<rect x="123" y="211" width="1" height="2" fill="#ff4500"/>
<rect x="127" y="200" width="1" height="42" fill="#32cd32"/>
<rect x="126" y="210" width="3" height="29" fill="#32cd32"/>
<rect x="131" y="214" width="1" height="27" fill="#ff0000"/>
<rect x="130" y="219" width="3" height="20" fill="#ff0000"/>
<rect x="131" y="220" width="1" height="18" fill="#ff4500"/>
<rect x="135" y="218" width="1" height="8" fill="#32cd32"/>
<rect x="134" y="219" width="3" height="2" fill="#32cd32"/>
<rect x="139" y="219" width="1" height="19" fill="#ff0000"/>
<rect x="138" y="220" width="3" height="8" fill="#ff0000"/>
<rect x="139" y="221" width="1" height="6" fill="#ff4500"/>
<rect x="143" y="214" width="1" height="20" fill="#32cd32"/>
<rect x="142" y="220" width="3" height="13" fill="#32cd32"/>
<rect x="147" y="222" width="1" height="26" fill="#ff0000"/>
<rect x="146" y="224" width="3" height="9" fill="#ff0000"/>
<rect x="147" y="225" width="1" height="7" fill="#ff4500"/>
<rect x="151" y="214" width="1" height="34" fill="#32cd32"/>
<rect x="150" y="224" width="3" height="14" fill="#32cd32"/>
<rect x="155" y="216" width="1" height="24" fill="#ff0000"/>
<rect x="154" y="219" width="3" height="19" fill="#ff0000"/>
<rect x="155" y="220" width="1" height="17" fill="#ff4500"/>
<rect x="159" y="211" width="1" height="10" fill="#ff0000"/>
<rect x="158" y="215" width="3" height="5" fill="#ff0000"/>
<rect x="159" y="216" width="1" height="3" fill="#ff4500"/>
<rect x="163" y="159" width="1" height="57" fill="#ff0000"/>
<rect x="162" y="187" width="3" height="28" fill="#ff0000"/>
<rect x="163" y="188" width="1" height="26" fill="#ff4500"/>
<rect x="167" y="167" width="1" height="38" fill="#ff0000"/>
<rect x="166" y="168" width="3" height="19" fill="#ff0000"/>
<rect x="167" y="169" width="1" height="17" fill="#ff4500"/>
<rect x="171" y="167" width="1" height="29" fill="#32cd32"/>
<rect x="170" y="167" width="3" height="25" fill="#32cd32"/>
<rect x="175" y="189" width="1" height="16" fill="#32cd32"/>
<rect x="174" y="191" width="3" height="7" fill="#32cd32"/>
<rect x="179" y="196" width="1" height="11" fill="#ff0000"/>
<rect x="178" y="196" width="3" height="2" fill="#ff0000"/>
<rect x="183" y="186" width="1" height="21" fill="#ff0000"/>
<rect x="182" y="189" width="3" height="6" fill="#ff0000"/>
<rect x="183" y="190" width="1" height="4" fill="#ff4500"/>
<rect x="187" y="186" width="1" height="32" fill="#32cd32"/>
<rect x="186" y="189" width="3" height="22" fill="#32cd32"/>
<rect x="191" y="202" width="1" height="25" fill="#32cd32"/>
<rect x="190" y="210" width="3" height="15" fill="#32cd32"/>
<rect x="195" y="220" width="1" height="20" fill="#32cd32"/>
<rect x="194" y="224" width="3" height="8" fill="#32cd32"/>
<rect x="199" y="221" width="1" height="19" fill="#32cd32"/>
<rect x="198" y="231" width="3" height="9" fill="#32cd32"/>
<rect x="203" y="229" width="1" height="27" fill="#ff0000"/>
<rect x="202" y="231" width="3" height="4" fill="#ff0000"/>
<rect x="203" y="232" width="1" height="2" fill="#ff4500"/>
<rect x="207" y="211" width="1" height="24" fill="#ff0000"/>
<rect x="206" y="231" width="3" height="1" fill="#ff0000"/>
<rect x="211" y="229" width="1" height="39" fill="#32cd32"/>
<rect x="210" y="231" width="3" height="15" fill="#32cd32"/>
<rect x="215" y="232" width="1" height="25" fill="#ff0000"/>
<rect x="214" y="236" width="3" height="10" fill="#ff0000"/>
<rect x="215" y="237" width="1" height="8" fill="#ff4500"/>
<rect x="219" y="233" width="1" height="25" fill="#32cd32"/>
<rect x="218" y="236" width="3" height="12" fill="#32cd32"/>
<rect x="223" y="229" width="1" height="20" fill="#ff0000"/>
<rect x="222" y="240" width="3" height="8" fill="#ff0000"/>
<rect x="223" y="241" width="1" height="6" fill="#ff4500"/>
<rect x="227" y="199" width="1" height="50" fill="#ff0000"/>
<rect x="226" y="210" width="3" height="37" fill="#ff0000"/>
<rect x="227" y="211" width="1" height="35" fill="#ff4500"/>
<rect x="231" y="209" width="1" height="25" fill="#32cd32"/>
<rect x="230" y="210" width="3" height="12" fill="#32cd32"/>
<rect x="235" y="221" width="1" height="22" fill="#32cd32"/>
<rect x="234" y="221" width="3" height="17" fill="#32cd32"/>
<rect x="239" y="234" width="1" height="29" fill="#32cd32"/>
<rect x="238" y="237" width="3" height="23" fill="#32cd32"/>
<rect x="243" y="222" width="1" height="47" fill="#ff0000"/>
<rect x="242" y="225" width="3" height="35" fill="#ff0000"/>
<rect x="243" y="226" width="1" height="33" fill="#ff4500"/>
<rect x="247" y="223" width="1" height="20" fill="#32cd32"/>
<rect x="246" y="225" width="3" height="10" fill="#32cd32"/>
<rect x="251" y="211" width="1" height="26" fill="#ff0000"/>
<rect x="250" y="223" width="3" height="12" fill="#ff0000"/>
<rect x="251" y="224" width="1" height="10" fill="#ff4500"/>
<rect x="255" y="221" width="1" height="17" fill="#32cd32"/>
<rect x="254" y="223" width="3" height="10" fill="#32cd32"/>
<rect x="259" y="229" width="1" height="46" fill="#32cd32"/>
<rect x="258" y="232" width="3" height="37" fill="#32cd32"/>
<rect x="263" y="259" width="1" height="22" fill="#32cd32"/>
<rect x="262" y="268" width="3" height="3" fill="#32cd32"/>
<rect x="267" y="236" width="1" height="35" fill="#ff0000"/>
<rect x="266" y="238" width="3" height="33" fill="#ff0000"/>
<rect x="267" y="239" width="1" height="31" fill="#ff4500"/>
<rect x="271" y="230" width="1" height="13" fill="#ff0000"/>
<rect x="270" y="234" width="3" height="4" fill="#ff0000"/>
<rect x="271" y="235" width="1" height="2" fill="#ff4500"/>
<rect x="275" y="227" width="1" height="22" fill="#ff0000"/>
<rect x="274" y="227" width="3" height="10" fill="#ff0000"/>
<rect x="275" y="228" width="1" height="8" fill="#ff4500"/>
<rect x="279" y="216" width="1" height="30" fill="#32cd32"/>
<rect x="278" y="227" width="3" height="16" fill="#32cd32"/>
<rect x="283" y="203" width="1" height="46" fill="#ff0000"/>
<rect x="282" y="219" width="3" height="24" fill="#ff0000"/>
<rect x="283" y="220" width="1" height="22" fill="#ff4500"/>
<rect x="287" y="184" width="1" height="44" fill="#ff0000"/>
<rect x="286" y="209" width="3" height="12" fill="#ff0000"/>
<rect x="287" y="210" width="1" height="10" fill="#ff4500"/>
<rect x="291" y="186" width="1" height="46" fill="#32cd32"/>
<rect x="290" y="209" width="3" height="12" fill="#32cd32"/>
<rect x="295" y="204" width="1" height="19" fill="#ff0000"/>
<rect x="294" y="209" width="3" height="12" fill="#ff0000"/>
<rect x="295" y="210" width="1" height="10" fill="#ff4500"/>
<rect x="299" y="198" width="1" height="26" fill="#ff0000"/>
<rect x="298" y="199" width="3" height="15" fill="#ff0000"/>
<rect x="299" y="200" width="1" height="13" fill="#ff4500"/>
<rect x="303" y="188" width="1" height="30" fill="#32cd32"/>
<rect x="302" y="199" width="3" height="2" fill="#32cd32"/>
<rect x="307" y="199" width="1" height="25" fill="#32cd32"/>
<rect x="306" y="200" width="3" height="15" fill="#32cd32"/>
<rect x="311" y="196" width="1" height="27" fill="#ff0000"/>
<rect x="310" y="198" width="3" height="16" fill="#ff0000"/>
<rect x="311" y="199" width="1" height="14" fill="#ff4500"/>
<rect x="315" y="196" width="1" height="25" fill="#32cd32"/>
<rect x="314" y="198" width="3" height="22" fill="#32cd32"/>
<rect x="319" y="216" width="1" height="7" fill="#32cd32"/>
<rect x="318" y="219" width="3" height="3" fill="#32cd32"/>
<rect x="323" y="216" width="1" height="15" fill="#32cd32"/>
<rect x="322" y="225" width="3" height="2" fill="#32cd32"/>
<rect x="327" y="220" width="1" height="20" fill="#32cd32"/>
<rect x="326" y="226" width="3" height="11" fill="#32cd32"/>
<rect x="331" y="232" width="1" height="23" fill="#32cd32"/>
<rect x="330" y="237" width="3" height="13" fill="#32cd32"/>
<rect x="335" y="240" width="1" height="17" fill="#ff0000"/>
<rect x="334" y="248" width="3" height="2" fill="#ff0000"/>
<rect x="339" y="223" width="1" height="27" fill="#ff0000"/>
<rect x="338" y="242" width="3" height="7" fill="#ff0000"/>
<rect x="339" y="243" width="1" height="5" fill="#ff4500"/>
<rect x="343" y="239" width="1" height="13" fill="#32cd32"/>
<rect x="342" y="242" width="3" height="1" fill="#32cd32"/>
<rect x="347" y="246" width="1" height="18" fill="#32cd32"/>
<rect x="346" y="248" width="3" height="15" fill="#32cd32"/>
<rect x="351" y="244" width="1" height="30" fill="#ff0000"/>
<rect x="350" y="250" width="3" height="13" fill="#ff0000"/>
<rect x="351" y="251" width="1" height="11" fill="#ff4500"/>
<rect x="355" y="228" width="1" height="25" fill="#ff0000"/>
<rect x="354" y="235" width="3" height="16" fill="#ff0000"/>
<rect x="355" y="236" width="1" height="14" fill="#ff4500"/>
<rect x="359" y="230" width="1" height="26" fill="#32cd32"/>
<rect x="358" y="235" width="3" height="3" fill="#32cd32"/>
<rect x="363" y="236" width="1" height="40" fill="#32cd32"/>
<rect x="362" y="237" width="3" height="38" fill="#32cd32"/>
<rect x="367" y="267" width="1" height="12" fill="#ff0000"/>
<rect x="366" y="269" width="3" height="5" fill="#ff0000"/>
<rect x="367" y="270" width="1" height="3" fill="#ff4500"/>
<rect x="371" y="259" width="1" height="25" fill="#ff0000"/>
<rect x="370" y="272" width="3" height="1" fill="#ff0000"/>
<rect x="375" y="261" width="1" height="21" fill="#32cd32"/>
<rect x="374" y="272" width="3" height="6" fill="#32cd32"/>
<rect x="379" y="272" width="1" height="21" fill="#32cd32"/>
<rect x="378" y="277" width="3" height="12" fill="#32cd32"/>
<rect x="383" y="288" width="1" height="33" fill="#32cd32"/>
<rect x="382" y="288" width="3" height="17" fill="#32cd32"/>
<rect x="387" y="248" width="1" height="59" fill="#ff0000"/>
<rect x="386" y="257" width="3" height="48" fill="#ff0000"/>
<rect x="387" y="258" width="1" height="46" fill="#ff4500"/>
<rect x="391" y="234" width="1" height="25" fill="#ff0000"/>
<rect x="390" y="241" width="3" height="17" fill="#ff0000"/>
<rect x="391" y="242" width="1" height="15" fill="#ff4500"/>
<rect x="395" y="232" width="1" height="29" fill="#32cd32"/>
<rect x="394" y="233" width="3" height="26" fill="#32cd32"/>
<rect x="399" y="244" width="1" height="27" fill="#32cd32"/>
<rect x="398" y="258" width="3" height="12" fill="#32cd32"/>
<rect x="403" y="257" width="1" height="23" fill="#ff0000"/>
<rect x="402" y="267" width="3" height="3" fill="#ff0000"/>
<rect x="403" y="268" width="1" height="1" fill="#ff4500"/>
<rect x="407" y="252" width="1" height="24" fill="#32cd32"/>
<rect x="406" y="267" width="3" height="7" fill="#32cd32"/>
<rect x="411" y="231" width="1" height="55" fill="#ff0000"/>
<rect x="410" y="248" width="3" height="27" fill="#ff0000"/>
<rect x="411" y="249" width="1" height="25" fill="#ff4500"/>
<rect x="415" y="246" width="1" height="15" fill="#32cd32"/>
<rect x="414" y="248" width="3" height="7" fill="#32cd32"/>
<rect x="419" y="243" width="1" height="27" fill="#ff0000"/>
<rect x="418" y="256" width="3" height="6" fill="#ff0000"/>
<rect x="419" y="257" width="1" height="4" fill="#ff4500"/>
<rect x="423" y="245" width="1" height="35" fill="#32cd32"/>
<rect x="422" y="255" width="3" height="8" fill="#32cd32"/>
<rect x="427" y="245" width="1" height="28" fill="#32cd32"/>
<rect x="426" y="261" width="3" height="2" fill="#32cd32"/>
<rect x="431" y="255" width="1" height="33" fill="#32cd32"/>
<rect x="430" y="262" width="3" height="26" fill="#32cd32"/>
<rect x="435" y="283" width="1" height="29" fill="#32cd32"/>
<rect x="434" y="287" width="3" height="25" fill="#32cd32"/>
<rect x="439" y="308" width="1" height="15" fill="#32cd32"/>
<rect x="438" y="310" width="3" height="11" fill="#32cd32"/>
<rect x="443" y="305" width="1" height="25" fill="#ff0000"/>
<rect x="442" y="312" width="3" height="6" fill="#ff0000"/>
<rect x="443" y="313" width="1" height="4" fill="#ff4500"/>
<rect x="447" y="309" width="1" height="18" fill="#32cd32"/>
<rect x="446" y="312" width="3" height="15" fill="#32cd32"/>
<rect x="451" y="312" width="1" height="19" fill="#ff0000"/>
<rect x="450" y="317" width="3" height="10" fill="#ff0000"/>
<rect x="451" y="318" width="1" height="8" fill="#ff4500"/>
<rect x="455" y="311" width="1" height="44" fill="#32cd32"/>
<rect x="454" y="317" width="3" height="15" fill="#32cd32"/>
<rect x="459" y="294" width="1" height="42" fill="#ff0000"/>
<rect x="458" y="306" width="3" height="26" fill="#ff0000"/>
<rect x="459" y="307" width="1" height="24" fill="#ff4500"/>
<rect x="463" y="305" width="1" height="11" fill="#32cd32"/>
<rect x="462" y="305" width="3" height="7" fill="#32cd32"/>
<rect x="467" y="297" width="1" height="22" fill="#ff0000"/>
<rect x="466" y="300" width="3" height="2" fill="#ff0000"/>
<rect x="471" y="278" width="1" height="30" fill="#ff0000"/>
<rect x="470" y="293" width="3" height="8" fill="#ff0000"/>
<rect x="471" y="294" width="1" height="6" fill="#ff4500"/>
<rect x="475" y="273" width="1" height="29" fill="#ff0000"/>
<rect x="474" y="292" width="3" height="2" fill="#ff0000"/>
<rect x="479" y="267" width="1" height="29" fill="#ff0000"/>
<rect x="478" y="272" width="3" height="21" fill="#ff0000"/>
<rect x="479" y="273" width="1" height="19" fill="#ff4500"/>
<rect x="483" y="268" width="1" height="22" fill="#32cd32"/>
<rect x="482" y="272" width="3" height="13" fill="#32cd32"/>
<rect x="487" y="274" width="1" height="12" fill="#ff0000"/>
<rect x="486" y="278" width="3" height="7" fill="#ff0000"/>
<rect x="487" y="279" width="1" height="5" fill="#ff4500"/>
<rect x="491" y="268" width="1" height="16" fill="#ff0000"/>
<rect x="490" y="279" width="3" height="5" fill="#ff0000"/>
<rect x="491" y="280" width="1" height="3" fill="#ff4500"/>
<rect x="495" y="261" width="1" height="23" fill="#ff0000"/>
<rect x="494" y="268" width="3" height="12" fill="#ff0000"/>
<rect x="495" y="269" width="1" height="10" fill="#ff4500"/>
<rect x="499" y="262" width="1" height="35" fill="#32cd32"/>
<rect x="498" y="268" width="3" height="18" fill="#32cd32"/>
<rect x="503" y="276" width="1" height="16" fill="#32cd32"/>
<rect x="502" y="285" width="3" height="2" fill="#32cd32"/>
<rect x="507" y="286" width="1" height="11" fill="#32cd32"/>
<rect x="506" y="287" width="3" height="9" fill="#32cd32"/>
<rect x="511" y="286" width="1" height="6" fill="#ff0000"/>
<rect x="510" y="286" width="3" height="3" fill="#ff0000"/>
<rect x="511" y="287" width="1" height="1" fill="#ff4500"/>
<rect x="515" y="278" width="1" height="32" fill="#32cd32"/>
<rect x="514" y="286" width="3" height="20" fill="#32cd32"/>
<rect x="519" y="285" width="1" height="21" fill="#ff0000"/>
<rect x="518" y="296" width="3" height="10" fill="#ff0000"/>
<rect x="519" y="297" width="1" height="8" fill="#ff4500"/>
<rect x="523" y="265" width="1" height="32" fill="#ff0000"/>
<rect x="522" y="271" width="3" height="26" fill="#ff0000"/>
<rect x="523" y="272" width="1" height="24" fill="#ff4500"/>
<rect x="527" y="266" width="1" height="20" fill="#32cd32"/>
<rect x="526" y="272" width="3" height="13" fill="#32cd32"/>
<rect x="531" y="273" width="1" height="24" fill="#32cd32"/>
<rect x="530" y="284" width="3" height="13" fill="#32cd32"/>
<rect x="535" y="295" width="1" height="6" fill="#32cd32"/>
<rect x="534" y="296" width="3" height="5" fill="#32cd32"/>
<rect x="539" y="286" width="1" height="15" fill="#ff0000"/>
<rect x="538" y="291" width="3" height="8" fill="#ff0000"/>
<rect x="539" y="292" width="1" height="6" fill="#ff4500"/>
<rect x="543" y="267" width="1" height="30" fill="#32cd32"/>
<rect x="542" y="289" width="3" height="7" fill="#32cd32"/>
<rect x="547" y="284" width="1" height="22" fill="#32cd32"/>
<rect x="546" y="295" width="3" height="10" fill="#32cd32"/>
<rect x="551" y="290" width="1" height="28" fill="#ff0000"/>
<rect x="550" y="296" width="3" height="9" fill="#ff0000"/>
<rect x="551" y="297" width="1" height="7" fill="#ff4500"/>
<rect x="555" y="290" width="1" height="22" fill="#32cd32"/>
<rect x="554" y="296" width="3" height="15" fill="#32cd32"/>
<rect x="559" y="307" width="1" height="5" fill="#ff0000"/>
<rect x="558" y="309" width="3" height="2" fill="#ff0000"/>
<rect x="563" y="297" width="1" height="23" fill="#ff0000"/>
<rect x="562" y="298" width="3" height="7" fill="#ff0000"/>
<rect x="563" y="299" width="1" height="5" fill="#ff4500"/>
<rect x="567" y="281" width="1" height="36" fill="#ff0000"/>
<rect x="566" y="285" width="3" height="13" fill="#ff0000"/>
<rect x="567" y="286" width="1" height="11" fill="#ff4500"/>
<rect x="571" y="259" width="1" height="64" fill="#32cd32"/>
<rect x="570" y="285" width="3" height="30" fill="#32cd32"/>
<rect x="575" y="297" width="1" height="22" fill="#ff0000"/>
<rect x="574" y="312" width="3" height="3" fill="#ff0000"/>
<rect x="575" y="313" width="1" height="1" fill="#ff4500"/>
<rect x="579" y="305" width="1" height="15" fill="#ff0000"/>
<rect x="578" y="311" width="3" height="2" fill="#ff0000"/>
<rect x="583" y="306" width="1" height="14" fill="#32cd32"/>
<rect x="582" y="311" width="3" height="8" fill="#32cd32"/>
<rect x="587" y="312" width="1" height="36" fill="#32cd32"/>
<rect x="586" y="314" width="3" height="30" fill="#32cd32"/>
<rect x="591" y="336" width="1" height="11" fill="#32cd32"/>
<rect x="590" y="343" width="3" height="1" fill="#32cd32"/>
<rect x="595" y="336" width="1" height="23" fill="#32cd32"/>
<rect x="594" y="343" width="3" height="15" fill="#32cd32"/>
<rect x="599" y="356" width="1" height="26" fill="#32cd32"/>
<rect x="598" y="357" width="3" height="21" fill="#32cd32"/>
<rect x="603" y="368" width="1" height="19" fill="#32cd32"/>
<rect x="602" y="377" width="3" height="2" fill="#32cd32"/>
<rect x="607" y="376" width="1" height="9" fill="#32cd32"/>
<rect x="606" y="378" width="3" height="4" fill="#32cd32"/>
<rect x="611" y="369" width="1" height="18" fill="#32cd32"/>
<rect x="610" y="380" width="3" height="4" fill="#32cd32"/>
<rect x="615" y="359" width="1" height="28" fill="#ff0000"/>
<rect x="614" y="369" width="3" height="15" fill="#ff0000"/>
<rect x="615" y="370" width="1" height="13" fill="#ff4500"/>
<rect x="619" y="368" width="1" height="24" fill="#32cd32"/>
<rect x="618" y="369" width="3" height="19" fill="#32cd32"/>
<rect x="623" y="379" width="1" height="36" fill="#32cd32"/>
<rect x="622" y="387" width="3" height="24" fill="#32cd32"/>
<rect x="627" y="409" width="1" height="24" fill="#32cd32"/>
<rect x="626" y="410" width="3" height="19" fill="#32cd32"/>
<rect x="631" y="422" width="1" height="8" fill="#ff0000"/>
<rect x="630" y="428" width="3" height="2" fill="#ff0000"/>
<rect x="635" y="431" width="1" height="17" fill="#32cd32"/>
<rect x="634" y="432" width="3" height="15" fill="#32cd32"/>
<rect x="639" y="432" width="1" height="17" fill="#ff0000"/>
<rect x="638" y="443" width="3" height="4" fill="#ff0000"/>
<rect x="639" y="444" width="1" height="2" fill="#ff4500"/>
<rect x="643" y="430" width="1" height="30" fill="#ff0000"/>
<rect x="642" y="440" width="3" height="4" fill="#ff0000"/>
<rect x="643" y="441" width="1" height="2" fill="#ff4500"/>
<rect x="647" y="422" width="1" height="20" fill="#ff0000"/>
<rect x="646" y="426" width="3" height="15" fill="#ff0000"/>
<rect x="647" y="427" width="1" height="13" fill="#ff4500"/>
<rect x="651" y="407" width="1" height="41" fill="#32cd32"/>
<rect x="650" y="426" width="3" height="11" fill="#32cd32"/>
<rect x="655" y="432" width="1" height="7" fill="#32cd32"/>
<rect x="654" y="436" width="3" height="2" fill="#32cd32"/>
<rect x="659" y="429" width="1" height="23" fill="#32cd32"/>
<rect x="658" y="435" width="3" height="16" fill="#32cd32"/>
<rect x="663" y="447" width="1" height="24" fill="#32cd32"/>
<rect x="662" y="450" width="3" height="5" fill="#32cd32"/>
<rect x="667" y="433" width="1" height="26" fill="#ff0000"/>
<rect x="666" y="444" width="3" height="11" fill="#ff0000"/>
<rect x="667" y="445" width="1" height="9" fill="#ff4500"/>
<rect x="671" y="426" width="1" height="33" fill="#32cd32"/>
<rect x="670" y="444" width="3" height="14" fill="#32cd32"/>
<rect x="675" y="443" width="1" height="23" fill="#ff0000"/>
<rect x="674" y="450" width="3" height="9" fill="#ff0000"/>
<rect x="675" y="451" width="1" height="7" fill="#ff4500"/>
<rect x="679" y="443" width="1" height="11" fill="#32cd32"/>
<rect x="678" y="450" width="3" height="4" fill="#32cd32"/>
<rect x="683" y="446" width="1" height="13" fill="#ff0000"/>
<rect x="682" y="447" width="3" height="3" fill="#ff0000"/>
<rect x="683" y="448" width="1" height="1" fill="#ff4500"/>
<rect x="687" y="447" width="1" height="18" fill="#32cd32"/>
<rect x="686" y="447" width="3" height="5" fill="#32cd32"/>
<rect x="691" y="433" width="1" height="28" fill="#ff0000"/>
<rect x="690" y="437" width="3" height="15" fill="#ff0000"/>
<rect x="691" y="438" width="1" height="13" fill="#ff4500"/>
<rect x="695" y="427" width="1" height="29" fill="#32cd32"/>
<rect x="694" y="437" width="3" height="13" fill="#32cd32"/>
<rect x="699" y="434" width="1" height="20" fill="#ff0000"/>
<rect x="698" y="445" width="3" height="5" fill="#ff0000"/>
<rect x="699" y="446" width="1" height="3" fill="#ff4500"/>
<rect x="703" y="444" width="1" height="7" fill="#32cd32"/>
<rect x="702" y="445" width="3" height="4" fill="#32cd32"/>
<rect x="707" y="444" width="1" height="11" fill="#32cd32"/>
<rect x="706" y="448" width="3" height="4" fill="#32cd32"/>
<rect x="711" y="450" width="1" height="23" fill="#32cd32"/>
<rect x="710" y="451" width="3" height="13" fill="#32cd32"/>
<rect x="715" y="444" width="1" height="20" fill="#ff0000"/>
<rect x="714" y="458" width="3" height="6" fill="#ff0000"/>
<rect x="715" y="459" width="1" height="4" fill="#ff4500"/>
<rect x="719" y="434" width="1" height="31" fill="#ff0000"/>
<rect x="718" y="435" width="3" height="24" fill="#ff0000"/>
<rect x="719" y="436" width="1" height="22" fill="#ff4500"/>
<rect x="723" y="430" width="1" height="21" fill="#32cd32"/>
<rect x="722" y="435" width="3" height="14" fill="#32cd32"/>
<rect x="727" y="444" width="1" height="7" fill="#32cd32"/>
<rect x="726" y="445" width="3" height="5" fill="#32cd32"/>
<rect x="731" y="439" width="1" height="15" fill="#32cd32"/>
<rect x="730" y="448" width="3" height="6" fill="#32cd32"/>
<rect x="735" y="441" width="1" height="15" fill="#ff0000"/>
<rect x="734" y="441" width="3" height="13" fill="#ff0000"/>
<rect x="735" y="442" width="1" height="11" fill="#ff4500"/>
<rect x="739" y="435" width="1" height="21" fill="#ff0000"/>
<rect x="738" y="440" width="3" height="2" fill="#ff0000"/>
<rect x="743" y="433" width="1" height="19" fill="#32cd32"/>
<rect x="742" y="440" width="3" height="3" fill="#32cd32"/>
<rect x="747" y="420" width="1" height="29" fill="#ff0000"/>
<rect x="746" y="421" width="3" height="22" fill="#ff0000"/>
<rect x="747" y="422" width="1" height="20" fill="#ff4500"/>
<rect x="751" y="416" width="1" height="6" fill="#ff0000"/>
<rect x="750" y="419" width="3" height="3" fill="#ff0000"/>
<rect x="751" y="420" width="1" height="1" fill="#ff4500"/>
<rect x="755" y="418" width="1" height="15" fill="#32cd32"/>
<rect x="754" y="422" width="3" height="9" fill="#32cd32"/>
<rect x="759" y="407" width="1" height="25" fill="#ff0000"/>
<rect x="758" y="407" width="3" height="24" fill="#ff0000"/>
<rect x="759" y="408" width="1" height="22" fill="#ff4500"/>
<rect x="763" y="407" width="1" height="14" fill="#32cd32"/>
<rect x="762" y="407" width="3" height="14" fill="#32cd32"/>
<rect x="767" y="357" width="1" height="66" fill="#ff0000"/>
<rect x="766" y="357" width="3" height="64" fill="#ff0000"/>
<rect x="767" y="358" width="1" height="62" fill="#ff4500"/>
<rect x="771" y="316" width="1" height="47" fill="#ff0000"/>
<rect x="770" y="330" width="3" height="28" fill="#ff0000"/>
<rect x="771" y="331" width="1" height="26" fill="#ff4500"/>
<rect x="775" y="328" width="1" height="10" fill="#32cd32"/>
<rect x="774" y="330" width="3" height="5" fill="#32cd32"/>
<rect x="779" y="314" width="1" height="40" fill="#32cd32"/>
<rect x="778" y="327" width="3" height="26" fill="#32cd32"/>
<rect x="783" y="341" width="1" height="18" fill="#32cd32"/>
<rect x="782" y="352" width="3" height="3" fill="#32cd32"/>
<rect x="787" y="354" width="1" height="38" fill="#32cd32"/>
<rect x="786" y="354" width="3" height="27" fill="#32cd32"/>
<rect x="791" y="362" width="1" height="20" fill="#ff0000"/>
<rect x="790" y="363" width="3" height="18" fill="#ff0000"/>
<rect x="791" y="364" width="1" height="16" fill="#ff4500"/>
<rect x="795" y="362" width="1" height="23" fill="#32cd32"/>
<rect x="794" y="363" width="3" height="15" fill="#32cd32"/>
<rect x="799" y="372" width="1" height="7" fill="#ff0000"/>
<rect x="798" y="373" width="3" height="5" fill="#ff0000"/>
<rect x="799" y="374" width="1" height="3" fill="#ff4500"/>
<rect x="803" y="359" width="1" height="21" fill="#ff0000"/>
<rect x="802" y="367" width="3" height="11" fill="#ff0000"/>
<rect x="803" y="368" width="1" height="9" fill="#ff4500"/>
<rect x="807" y="343" width="1" height="28" fill="#ff0000"/>
<rect x="806" y="350" width="3" height="18" fill="#ff0000"/>
<rect x="807" y="351" width="1" height="16" fill="#ff4500"/>
<rect x="811" y="334" width="1" height="24" fill="#ff0000"/>
<rect x="810" y="341" width="3" height="9" fill="#ff0000"/>
<rect x="811" y="342" width="1" height="7" fill="#ff4500"/>
<rect x="815" y="333" width="1" height="22" fill="#ff0000"/>
<rect x="814" y="340" width="3" height="2" fill="#ff0000"/>
<rect x="819" y="326" width="1" height="36" fill="#32cd32"/>
<rect x="818" y="340" width="3" height="21" fill="#32cd32"/>
<rect x="823" y="358" width="1" height="15" fill="#32cd32"/>
<rect x="822" y="360" width="3" height="10" fill="#32cd32"/>
<rect x="827" y="352" width="1" height="16" fill="#ff0000"/>
<rect x="826" y="365" width="3" height="2" fill="#ff0000"/>
<rect x="831" y="311" width="1" height="64" fill="#ff0000"/>
<rect x="830" y="321" width="3" height="45" fill="#ff0000"/>
<rect x="831" y="322" width="1" height="43" fill="#ff4500"/>
<rect x="835" y="303" width="1" height="33" fill="#ff0000"/>
<rect x="834" y="307" width="3" height="15" fill="#ff0000"/>
<rect x="835" y="308" width="1" height="13" fill="#ff4500"/>
<rect x="839" y="280" width="1" height="47" fill="#ff0000"/>
<rect x="838" y="298" width="3" height="10" fill="#ff0000"/>
<rect x="839" y="299" width="1" height="8" fill="#ff4500"/>
<rect x="843" y="291" width="1" height="30" fill="#32cd32"/>
<rect x="842" y="298" width="3" height="20" fill="#32cd32"/>
<rect x="847" y="315" width="1" height="11" fill="#32cd32"/>
<rect x="846" y="317" width="3" height="8" fill="#32cd32"/>
<rect x="851" y="305" width="1" height="23" fill="#ff0000"/>
<rect x="850" y="324" width="3" height="2" fill="#ff0000"/>
<rect x="855" y="296" width="1" height="33" fill="#ff0000"/>
<rect x="854" y="306" width="3" height="19" fill="#ff0000"/>
<rect x="855" y="307" width="1" height="17" fill="#ff4500"/>
<rect x="859" y="301" width="1" height="34" fill="#ff0000"/>
<rect x="858" y="302" width="3" height="5" fill="#ff0000"/>
<rect x="859" y="303" width="1" height="3" fill="#ff4500"/>
<rect x="863" y="281" width="1" height="31" fill="#ff0000"/>
<rect x="862" y="283" width="3" height="20" fill="#ff0000"/>
<rect x="863" y="284" width="1" height="18" fill="#ff4500"/>
<rect x="867" y="272" width="1" height="18" fill="#ff0000"/>
<rect x="866" y="281" width="3" height="2" fill="#ff0000"/>
<rect x="871" y="272" width="1" height="13" fill="#ff0000"/>
<rect x="870" y="274" width="3" height="8" fill="#ff0000"/>
<rect x="871" y="275" width="1" height="6" fill="#ff4500"/>
<rect x="875" y="208" width="1" height="65" fill="#ff0000"/>
<rect x="874" y="226" width="3" height="45" fill="#ff0000"/>
<rect x="875" y="227" width="1" height="43" fill="#ff4500"/>
<rect x="879" y="215" width="1" height="22" fill="#32cd32"/>
<rect x="878" y="226" width="3" height="10" fill="#32cd32"/>
<rect x="883" y="233" width="1" height="69" fill="#32cd32"/>
<rect x="882" y="235" width="3" height="62" fill="#32cd32"/>
<rect x="887" y="278" width="1" height="23" fill="#ff0000"/>
<rect x="886" y="283" width="3" height="14" fill="#ff0000"/>
<rect x="887" y="284" width="1" height="12" fill="#ff4500"/>
<rect x="891" y="274" width="1" height="19" fill="#ff0000"/>
<rect x="890" y="282" width="3" height="2" fill="#ff0000"/>
<rect x="895" y="282" width="1" height="4" fill="#32cd32"/>
<rect x="894" y="282" width="3" height="4" fill="#32cd32"/>
<rect x="899" y="280" width="1" height="21" fill="#32cd32"/>
<rect x="898" y="287" width="3" height="10" fill="#32cd32"/>
<rect x="903" y="278" width="1" height="20" fill="#ff0000"/>
<rect x="902" y="283" width="3" height="14" fill="#ff0000"/>
<rect x="903" y="284" width="1" height="12" fill="#ff4500"/>
<rect x="907" y="275" width="1" height="17" fill="#32cd32"/>
<rect x="906" y="283" width="3" height="6" fill="#32cd32"/>
<rect x="911" y="275" width="1" height="57" fill="#32cd32"/>
<rect x="910" y="288" width="3" height="42" fill="#32cd32"/>
<rect x="915" y="313" width="1" height="23" fill="#ff0000"/>
<rect x="914" y="321" width="3" height="9" fill="#ff0000"/>
<rect x="915" y="322" width="1" height="7" fill="#ff4500"/>
<rect x="919" y="312" width="1" height="10" fill="#ff0000"/>
<rect x="918" y="316" width="3" height="6" fill="#ff0000"/>
<rect x="919" y="317" width="1" height="4" fill="#ff4500"/>
<rect x="922" y="319" width="3" height="1" fill="#000"/>
<rect x="923" y="318" width="1" height="3" fill="#000"/>
<rect x="6" y="527" width="3" height="6" fill="#c0c0c0"/>
<rect x="10" y="527" width="3" height="10" fill="#c0c0c0"/>
<rect x="14" y="527" width="3" height="13" fill="#c0c0c0"/>
<rect x="18" y="527" width="3" height="17" fill="#c0c0c0"/>
<rect x="22" y="527" width="3" height="19" fill="#c0c0c0"/>
<rect x="26" y="527" width="3" height="18" fill="#c0c0c0"/>
<rect x="30" y="527" width="3" height="16" fill="#c0c0c0"/>
<rect x="34" y="527" width="3" height="13" fill="#c0c0c0"/>
<rect x="38" y="527" width="3" height="12" fill="#c0c0c0"/>
<rect x="42" y="527" width="3" height="12" fill="#c0c0c0"/>
<rect x="46" y="527" width="3" height="11" fill="#c0c0c0"/>
<rect x="50" y="527" width="3" height="11" fill="#c0c0c0"/>
<rect x="54" y="527" width="3" height="11" fill="#c0c0c0"/>
<rect x="58" y="527" width="3" height="11" fill="#c0c0c0"/>
<rect x="62" y="527" width="3" height="11" fill="#c0c0c0"/>
<rect x="66" y="527" width="3" height="11" fill="#c0c0c0"/>
<rect x="70" y="527" width="3" height="11" fill="#c0c0c0"/>
<rect x="74" y="527" width="3" height="12" fill="#c0c0c0"/>
<rect x="78" y="527" width="3" height="13" fill="#c0c0c0"/>
<rect x="82" y="527" width="3" height="14" fill="#c0c0c0"/>
<rect x="86" y="527" width="3" height="15" fill="#c0c0c0"/>
<rect x="90" y="527" width="3" height="16" fill="#c0c0c0"/>
<rect x="94" y="527" width="3" height="17" fill="#c0c0c0"/>
<rect x="98" y="527" width="3" height="18" fill="#c0c0c0"/>
<rect x="102" y="527" width="3" height="20" fill="#c0c0c0"/>
<rect x="106" y="527" width="3" height="24" fill="#c0c0c0"/>
<rect x="110" y="527" width="3" height="27" fill="#c0c0c0"/>
<rect x="114" y="527" width="3" height="29" fill="#c0c0c0"/>
<rect x="118" y="527" width="3" height="30" fill="#c0c0c0"/>
<rect x="122" y="527" width="3" height="30" fill="#c0c0c0"/>
<rect x="126" y="527" width="3" height="33" fill="#c0c0c0"/>
<rect x="130" y="527" width="3" height="33" fill="#c0c0c0"/>
<rect x="134" y="527" width="3" height="32" fill="#c0c0c0"/>
<rect x="138" y="527" width="3" height="31" fill="#c0c0c0"/>
<rect x="142" y="527" width="3" height="31" fill="#c0c0c0"/>
<rect x="146" y="527" width="3" height="31" fill="#c0c0c0"/>
<rect x="150" y="527" width="3" height="30" fill="#c0c0c0"/>
<rect x="154" y="527" width="3" height="29" fill="#c0c0c0"/>
<rect x="158" y="527" width="3" height="27" fill="#c0c0c0"/>
<rect x="162" y="527" width="3" height="22" fill="#c0c0c0"/>
<rect x="166" y="527" width="3" height="17" fill="#c0c0c0"/>
<rect x="170" y="527" width="3" height="14" fill="#c0c0c0"/>
<rect x="174" y="527" width="3" height="13" fill="#c0c0c0"/>
<rect x="178" y="527" width="3" height="12" fill="#c0c0c0"/>
<rect x="182" y="527" width="3" height="10" fill="#c0c0c0"/>
<rect x="186" y="527" width="3" height="10" fill="#c0c0c0"/>
<rect x="190" y="527" width="3" height="12" fill="#c0c0c0"/>
<rect x="194" y="527" width="3" height="13" fill="#c0c0c0"/>
<rect x="198" y="527" width="3" height="14" fill="#c0c0c0"/>
<rect x="202" y="527" width="3" height="15" fill="#c0c0c0"/>
<rect x="206" y="527" width="3" height="16" fill="#c0c0c0"/>
<rect x="210" y="527" width="3" height="17" fill="#c0c0c0"/>
<rect x="214" y="527" width="3" height="17" fill="#c0c0c0"/>
<rect x="218" y="527" width="3" height="17" fill="#c0c0c0"/>
<rect x="222" y="527" width="3" height="17" fill="#c0c0c0"/>
<rect x="226" y="527" width="3" height="16" fill="#c0c0c0"/>
<rect x="230" y="527" width="3" height="14" fill="#c0c0c0"/>
<rect x="234" y="527" width="3" height="13" fill="#c0c0c0"/>
<rect x="238" y="527" width="3" height="13" fill="#c0c0c0"/>
<rect x="242" y="527" width="3" height="13" fill="#c0c0c0"/>
<rect x="246" y="527" width="3" height="12" fill="#c0c0c0"/>
<rect x="250" y="527" width="3" height="11" fill="#c0c0c0"/>
<rect x="254" y="527" width="3" height="11" fill="#c0c0c0"/>
<rect x="258" y="527" width="3" height="12" fill="#c0c0c0"/>
<rect x="262" y="527" width="3" height="13" fill="#c0c0c0"/>
<rect x="266" y="527" width="3" height="12" fill="#c0c0c0"/>
<rect x="270" y="527" width="3" height="11" fill="#c0c0c0"/>
<rect x="274" y="527" width="3" height="10" fill="#c0c0c0"/>
<rect x="278" y="527" width="3" height="9" fill="#c0c0c0"/>
<rect x="282" y="527" width="3" height="7" fill="#c0c0c0"/>
<rect x="286" y="527" width="3" height="4" fill="#c0c0c0"/>
<rect x="290" y="527" width="3" height="2" fill="#c0c0c0"/>
<rect x="294" y="527" width="3" height="1" fill="#c0c0c0"/>
<rect x="298" y="525" width="3" height="2" fill="#c0c0c0"/>
<rect x="302" y="523" width="3" height="4" fill="#c0c0c0"/>
<rect x="306" y="523" width="3" height="4" fill="#c0c0c0"/>
<rect x="310" y="521" width="3" height="6" fill="#c0c0c0"/>
<rect x="314" y="522" width="3" height="5" fill="#c0c0c0"/>
<rect x="318" y="523" width="3" height="4" fill="#c0c0c0"/>
<rect x="322" y="526" width="3" height="1" fill="#c0c0c0"/>
<rect x="330" y="527" width="3" height="2" fill="#c0c0c0"/>
<rect x="334" y="527" width="3" height="4" fill="#c0c0c0"/>
<rect x="338" y="527" width="3" height="5" fill="#c0c0c0"/>
<rect x="342" y="527" width="3" height="6" fill="#c0c0c0"/>
<rect x="346" y="527" width="3" height="8" fill="#c0c0c0"/>
<rect x="350" y="527" width="3" height="8" fill="#c0c0c0"/>
<rect x="354" y="527" width="3" height="7" fill="#c0c0c0"/>
<rect x="358" y="527" width="3" height="7" fill="#c0c0c0"/>
<rect x="362" y="527" width="3" height="9" fill="#c0c0c0"/>
<rect x="366" y="527" width="3" height="11" fill="#c0c0c0"/>
<rect x="370" y="527" width="3" height="12" fill="#c0c0c0"/>
<rect x="374" y="527" width="3" height="13" fill="#c0c0c0"/>
<rect x="378" y="527" width="3" height="14" fill="#c0c0c0"/>
<rect x="382" y="527" width="3" height="18" fill="#c0c0c0"/>
<rect x="386" y="527" width="3" height="16" fill="#c0c0c0"/>
<rect x="390" y="527" width="3" height="12" fill="#c0c0c0"/>
<rect x="394" y="527" width="3" height="10" fill="#c0c0c0"/>
<rect x="398" y="527" width="3" height="10" fill="#c0c0c0"/>
<rect x="402" y="527" width="3" height="11" fill="#c0c0c0"/>
<rect x="406" y="527" width="3" height="11" fill="#c0c0c0"/>
<rect x="410" y="527" width="3" height="9" fill="#c0c0c0"/>
<rect x="414" y="527" width="3" height="7" fill="#c0c0c0"/>
<rect x="418" y="527" width="3" height="6" fill="#c0c0c0"/>
<rect x="422" y="527" width="3" height="6" fill="#c0c0c0"/>
<rect x="426" y="527" width="3" height="6" fill="#c0c0c0"/>
<rect x="430" y="527" width="3" height="7" fill="#c0c0c0"/>
<rect x="434" y="527" width="3" height="11" fill="#c0c0c0"/>
<rect x="438" y="527" width="3" height="15" fill="#c0c0c0"/>
<rect x="442" y="527" width="3" height="16" fill="#c0c0c0"/>
<rect x="446" y="527" width="3" height="19" fill="#c0c0c0"/>
<rect x="450" y="527" width="3" height="20" fill="#c0c0c0"/>
<rect x="454" y="527" width="3" height="21" fill="#c0c0c0"/>
<rect x="458" y="527" width="3" height="20" fill="#c0c0c0"/>
<rect x="462" y="527" width="3" height="20" fill="#c0c0c0"/>
<rect x="466" y="527" width="3" height="18" fill="#c0c0c0"/>
<rect x="470" y="527" width="3" height="16" fill="#c0c0c0"/>
<rect x="474" y="527" width="3" height="14" fill="#c0c0c0"/>
<rect x="478" y="527" width="3" height="11" fill="#c0c0c0"/>
<rect x="482" y="527" width="3" height="9" fill="#c0c0c0"/>
<rect x="486" y="527" width="3" height="7" fill="#c0c0c0"/>
<rect x="490" y="527" width="3" height="5" fill="#c0c0c0"/>
<rect x="494" y="527" width="3" height="3" fill="#c0c0c0"/>
<rect x="498" y="527" width="3" height="3" fill="#c0c0c0"/>
<rect x="502" y="527" width="3" height="3" fill="#c0c0c0"/>
<rect x="506" y="527" width="3" height="3" fill="#c0c0c0"/>
<rect x="510" y="527" width="3" height="3" fill="#c0c0c0"/>
<rect x="514" y="527" width="3" height="4" fill="#c0c0c0"/>
<rect x="518" y="527" width="3" height="4" fill="#c0c0c0"/>
<rect x="522" y="527" width="3" height="3" fill="#c0c0c0"/>
<rect x="526" y="527" width="3" height="2" fill="#c0c0c0"/>
<rect x="530" y="527" width="3" height="3" fill="#c0c0c0"/>
<rect x="534" y="527" width="3" height="3" fill="#c0c0c0"/>
<rect x="538" y="527" width="3" height="3" fill="#c0c0c0"/>
<rect x="542" y="527" width="3" height="4" fill="#c0c0c0"/>
<rect x="546" y="527" width="3" height="5" fill="#c0c0c0"/>
<rect x="550" y="527" width="3" height="5" fill="#c0c0c0"/>
<rect x="554" y="527" width="3" height="6" fill="#c0c0c0"/>
<rect x="558" y="527" width="3" height="6" fill="#c0c0c0"/>
<rect x="562" y="527" width="3" height="6" fill="#c0c0c0"/>
<rect x="566" y="527" width="3" height="5" fill="#c0c0c0"/>
<rect x="570" y="527" width="3" height="5" fill="#c0c0c0"/>
<rect x="574" y="527" width="3" height="6" fill="#c0c0c0"/>
<rect x="578" y="527" width="3" height="7" fill="#c0c0c0"/>
<rect x="582" y="527" width="3" height="8" fill="#c0c0c0"/>
<rect x="586" y="527" width="3" height="10" fill="#c0c0c0"/>
<rect x="590" y="527" width="3" height="12" fill="#c0c0c0"/>
<rect x="594" y="527" width="3" height="15" fill="#c0c0c0"/>
<rect x="598" y="527" width="3" height="19" fill="#c0c0c0"/>
<rect x="602" y="527" width="3" height="21" fill="#c0c0c0"/>
<rect x="606" y="527" width="3" height="24" fill="#c0c0c0"/>
<rect x="610" y="527" width="3" height="25" fill="#c0c0c0"/>
<rect x="614" y="527" width="3" height="25" fill="#c0c0c0"/>
<rect x="618" y="527" width="3" height="26" fill="#c0c0c0"/>
<rect x="622" y="527" width="3" height="29" fill="#c0c0c0"/>
<rect x="626" y="527" width="3" height="32" fill="#c0c0c0"/>
<rect x="630" y="527" width="3" height="34" fill="#c0c0c0"/>
<rect x="634" y="527" width="3" height="36" fill="#c0c0c0"/>
<rect x="638" y="527" width="3" height="38" fill="#c0c0c0"/>
<rect x="642" y="527" width="3" height="39" fill="#c0c0c0"/>
<rect x="646" y="527" width="3" height="38" fill="#c0c0c0"/>
<rect x="650" y="527" width="3" height="37" fill="#c0c0c0"/>
<rect x="654" y="527" width="3" height="36" fill="#c0c0c0"/>
<rect x="658" y="527" width="3" height="36" fill="#c0c0c0"/>
<rect x="662" y="527" width="3" height="36" fill="#c0c0c0"/>
<rect x="666" y="527" width="3" height="36" fill="#c0c0c0"/>
<rect x="670" y="527" width="3" height="35" fill="#c0c0c0"/>
<rect x="674" y="527" width="3" height="34" fill="#c0c0c0"/>
<rect x="678" y="527" width="3" height="33" fill="#c0c0c0"/>
<rect x="682" y="527" width="3" height="31" fill="#c0c0c0"/>
<rect x="686" y="527" width="3" height="30" fill="#c0c0c0"/>
<rect x="690" y="527" width="3" height="28" fill="#c0c0c0"/>
<rect x="694" y="527" width="3" height="26" fill="#c0c0c0"/>
<rect x="698" y="527" width="3" height="24" fill="#c0c0c0"/>
<rect x="702" y="527" width="3" height="23" fill="#c0c0c0"/>
<rect x="706" y="527" width="3" height="22" fill="#c0c0c0"/>
<rect x="710" y="527" width="3" height="22" fill="#c0c0c0"/>
<rect x="714" y="527" width="3" height="20" fill="#c0c0c0"/>
<rect x="718" y="527" width="3" height="18" fill="#c0c0c0"/>
<rect x="722" y="527" width="3" height="17" fill="#c0c0c0"/>
<rect x="726" y="527" width="3" height="16" fill="#c0c0c0"/>
<rect x="730" y="527" width="3" height="14" fill="#c0c0c0"/>
<rect x="734" y="527" width="3" height="13" fill="#c0c0c0"/>
<rect x="738" y="527" width="3" height="12" fill="#c0c0c0"/>
<rect x="742" y="527" width="3" height="11" fill="#c0c0c0"/>
<rect x="746" y="527" width="3" height="8" fill="#c0c0c0"/>
<rect x="750" y="527" width="3" height="6" fill="#c0c0c0"/>
<rect x="754" y="527" width="3" height="4" fill="#c0c0c0"/>
<rect x="758" y="527" width="3" height="2" fill="#c0c0c0"/>
<rect x="762" y="526" width="3" height="1" fill="#c0c0c0"/>
<rect x="766" y="520" width="3" height="7" fill="#c0c0c0"/>
<rect x="770" y="513" width="3" height="14" fill="#c0c0c0"/>
<rect x="774" y="508" width="3" height="19" fill="#c0c0c0"/>
<rect x="778" y="506" width="3" height="21" fill="#c0c0c0"/>
<rect x="782" y="504" width="3" height="23" fill="#c0c0c0"/>
<rect x="786" y="506" width="3" height="21" fill="#c0c0c0"/>
<rect x="790" y="506" width="3" height="21" fill="#c0c0c0"/>
<rect x="794" y="507" width="3" height="20" fill="#c0c0c0"/>
<rect x="798" y="509" width="3" height="18" fill="#c0c0c0"/>
<rect x="802" y="508" width="3" height="19" fill="#c0c0c0"/>
<rect x="806" y="508" width="3" height="19" fill="#c0c0c0"/>
<rect x="810" y="507" width="3" height="20" fill="#c0c0c0"/>
<rect x="814" y="505" width="3" height="22" fill="#c0c0c0"/>
<rect x="818" y="508" width="3" height="19" fill="#c0c0c0"/>
<rect x="822" y="509" width="3" height="18" fill="#c0c0c0"/>
<rect x="826" y="510" width="3" height="17" fill="#c0c0c0"/>
<rect x="830" y="508" width="3" height="19" fill="#c0c0c0"/>
<rect x="834" y="505" width="3" height="22" fill="#c0c0c0"/>
<rect x="838" y="502" width="3" height="25" fill="#c0c0c0"/>
<rect x="842" y="502" width="3" height="25" fill="#c0c0c0"/>
<rect x="846" y="502" width="3" height="25" fill="#c0c0c0"/>
<rect x="850" y="503" width="3" height="24" fill="#c0c0c0"/>
<rect x="854" y="502" width="3" height="25" fill="#c0c0c0"/>
<rect x="858" y="502" width="3" height="25" fill="#c0c0c0"/>
<rect x="862" y="500" width="3" height="27" fill="#c0c0c0"/>
<rect x="866" y="499" width="3" height="28" fill="#c0c0c0"/>
<rect x="870" y="498" width="3" height="29" fill="#c0c0c0"/>
<rect x="874" y="493" width="3" height="34" fill="#c0c0c0"/>
<rect x="878" y="490" width="3" height="37" fill="#c0c0c0"/>
<rect x="882" y="494" width="3" height="33" fill="#c0c0c0"/>
<rect x="886" y="496" width="3" height="31" fill="#c0c0c0"/>
<rect x="890" y="497" width="3" height="30" fill="#c0c0c0"/>
<rect x="894" y="500" width="3" height="27" fill="#c0c0c0"/>
<rect x="898" y="503" width="3" height="24" fill="#c0c0c0"/>
<rect x="902" y="504" width="3" height="23" fill="#c0c0c0"/>
<rect x="906" y="506" width="3" height="21" fill="#c0c0c0"/>
<rect x="910" y="511" width="3" height="16" fill="#c0c0c0"/>
<rect x="914" y="515" width="3" height="12" fill="#c0c0c0"/>
<rect x="918" y="517" width="3" height="10" fill="#c0c0c0"/>
<rect x="922" y="519" width="3" height="8" fill="#c0c0c0"/>
<path d="M3 526h13v1h-13zM16 527h2v1h-2zM18 528h2v1h-2zM20 529h1v1h-1zM21 530h2v1h-2zM23 531h1v1h-1zM24 532h2v1h-2zM26 533h1v1h-1zM27 534h2v1h-2zM29 535h1v1h-1zM30 536h2v1h-2zM32 537h1v1h-1zM33 538h2v1h-2zM35 539h3v1h-3zM38 540h5v1h-5zM43 541h9v1h-9zM52 540h5v1h-5zM57 539h4v1h-4zM61 538h4v1h-4zM65 537h23v1h-23zM88 538h7v1h-7zM95 539h5v1h-5zM100 540h3v1h-3zM103 541h3v1h-3zM106 542h2v1h-2zM108 543h3v1h-3zM111 544h2v1h-2zM113 545h3v1h-3zM116 546h2v1h-2zM118 547h3v1h-3zM121 548h2v1h-2zM123 549h3v1h-3zM126 550h2v1h-2zM128 551h2v1h-2zM130 552h2v1h-2zM132 553h2v1h-2zM134 554h2v1h-2zM136 555h3v1h-3zM139 556h3v1h-3zM142 557h19v1h-19zM161 556h2v1h-2zM163 555h2v1h-2zM165 554h2v1h-2zM167 553h1v1h-1zM168 552h2v1h-2zM170 551h2v1h-2zM172 550h2v1h-2zM174 549h2v1h-2zM176 548h2v1h-2zM178 547h2v1h-2zM180 546h2v1h-2zM182 545h2v1h-2zM184 544h1v1h-1zM185 543h2v1h-2zM187 542h2v1h-2zM189 541h3v1h-3zM192 540h4v1h-4zM196 539h20v1h-20zM216 540h3v1h-3zM219 541h10v1h-10zM229 542h2v1h-2zM231 541h18v1h-18zM249 540h4v1h-4zM253 539h13v1h-13zM266 538h14v1h-14zM280 537h4v1h-4zM284 536h5v1h-5zM289 535h3v1h-3zM292 534h4v1h-4zM296 533h3v1h-3zM299 532h2v1h-2zM301 531h3v1h-3zM304 530h2v1h-2zM306 529h3v1h-3zM309 528h2v1h-2zM311 527h2v1h-2zM313 526h4v1h-4zM317 525h4v1h-4zM321 524h20v1h-20zM341 525h3v1h-3zM344 526h2v1h-2zM346 527h3v1h-3zM349 528h4v1h-4zM353 529h4v1h-4zM357 530h4v1h-4zM361 531h4v1h-4zM365 532h4v1h-4zM369 533h4v1h-4zM373 534h3v1h-3zM376 535h3v1h-3zM379 536h3v1h-3zM382 537h4v1h-4zM386 538h3v1h-3zM389 539h24v1h-24zM413 538h3v1h-3zM416 537h3v1h-3zM419 536h4v1h-4zM423 535h4v1h-4zM427 534h15v1h-15zM442 535h4v1h-4zM446 536h2v1h-2zM448 537h2v1h-2zM450 538h3v1h-3zM453 539h3v1h-3zM456 540h2v1h-2zM458 541h3v1h-3zM461 542h2v1h-2zM463 543h3v1h-3zM466 544h14v1h-14zM480 543h3v1h-3zM483 542h3v1h-3zM486 541h3v1h-3zM489 540h2v1h-2zM491 539h2v1h-2zM493 538h2v1h-2zM495 537h3v1h-3zM498 536h3v1h-3zM501 535h2v1h-2zM503 534h3v1h-3zM506 533h2v1h-2zM508 532h2v1h-2zM510 531h4v1h-4zM514 530h7v1h-7zM521 529h27v1h-27zM548 530h20v1h-20zM568 531h7v1h-7zM575 532h10v1h-10zM585 533h10v1h-10zM595 534h2v1h-2zM597 535h2v1h-2zM599 536h2v1h-2zM601 537h3v1h-3zM604 538h2v1h-2zM606 539h2v1h-2zM608 540h2v1h-2zM610 541h2v1h-2zM612 542h2v1h-2zM614 543h1v1h-1zM615 544h2v1h-2zM617 545h2v1h-2zM619 546h2v1h-2zM621 547h2v1h-2zM623 548h2v1h-2zM625 549h2v1h-2zM627 550h2v1h-2zM629 551h2v1h-2zM631 552h2v1h-2zM633 553h2v1h-2zM635 554h2v1h-2zM637 555h2v1h-2zM639 556h2v1h-2zM641 557h2v1h-2zM643 558h3v1h-3zM646 559h4v1h-4zM650 560h4v1h-4zM654 561h3v1h-3zM657 562h5v1h-5zM662 563h12v1h-12zM674 562h6v1h-6zM680 561h4v1h-4zM684 560h4v1h-4zM688 559h4v1h-4zM692 558h3v1h-3zM695 557h2v1h-2zM697 556h3v1h-3zM700 555h4v1h-4zM704 554h5v1h-5zM709 553h3v1h-3zM712 552h3v1h-3zM715 551h3v1h-3zM718 550h2v1h-2zM720 549h4v1h-4zM724 548h3v1h-3zM727 547h4v1h-4zM731 546h3v1h-3zM734 545h2v1h-2zM736 544h3v1h-3zM739 543h3v1h-3zM742 542h4v1h-4zM746 541h3v1h-3zM749 540h2v1h-2zM751 539h2v1h-2zM753 538h2v1h-2zM755 537h2v1h-2zM757 536h3v1h-3zM760 535h2v1h-2zM762 534h3v1h-3zM765 533h2v1h-2zM767 532h2v1h-2zM769 531h1v1h-1zM770 530h2v1h-2zM772 529h1v1h-1zM773 528h1v1h-1zM774 527h1v1h-1zM775 526h1v1h-1zM776 525h1v1h-1zM777 524h1v1h-1zM778 523h1v1h-1zM779 522h1v1h-1zM780 521h1v1h-1zM781 520h1v1h-1zM782 519h1v1h-1zM783 518h2v1h-2zM785 517h1v1h-1zM786 516h1v1h-1zM787 515h2v1h-2zM789 514h1v1h-1zM790 513h2v1h-2zM792 512h2v1h-2zM794 511h1v1h-1zM795 510h2v1h-2zM797 509h2v1h-2zM799 508h3v1h-3zM802 507h7v1h-7zM809 506h10v1h-10zM819 507h7v1h-7zM826 508h7v1h-7zM833 507h8v1h-8zM841 506h3v1h-3zM844 505h13v1h-13zM857 504h3v1h-3zM860 503h4v1h-4zM864 502h4v1h-4zM868 501h5v1h-5zM873 500h4v1h-4zM877 499h4v1h-4zM881 498h4v1h-4zM885 497h8v1h-8zM893 496h6v1h-6zM899 497h8v1h-8zM907 498h2v1h-2zM909 499h2v1h-2zM911 500h1v1h-1zM912 501h2v1h-2zM914 502h1v1h-1zM915 503h2v1h-2zM917 504h2v1h-2zM919 505h1v1h-1zM920 506h2v1h-2zM922 507h2v1h-2z" fill="#ff0000"/>
<line x1="4" y1="598.5" x2="1165" y2="598.5" stroke="#c0c0c0" stroke-width="1" stroke-dasharray="3,3"/>
<line x1="4" y1="632.5" x2="1165" y2="632.5" stroke="#c0c0c0" stroke-width="1" stroke-dasharray="3,3"/>
<path d="M3 620h1v1h-1zM4 621h1v2h-1zM5 623h1v1h-1zM6 624h1v2h-1zM7 626h9v1h-9zM16 627h1v1h-1zM17 628h2v1h-2zM19 629h1v1h-1zM20 628h1v1h-1zM21 626h1v2h-1zM22 625h1v1h-1zM23 624h1v1h-1zM24 623h1v1h-1zM25 622h1v1h-1zM26 621h1v1h-1zM27 620h1v1h-1zM28 619h1v1h-1zM29 618h1v1h-1zM30 617h2v1h-2zM32 616h1v1h-1zM33 615h2v1h-2zM35 614h2v1h-2zM37 615h1v1h-1zM38 616h2v1h-2zM40 617h1v1h-1zM41 618h1v1h-1zM42 619h1v1h-1zM43 620h2v1h-2zM45 619h1v1h-1zM46 618h3v1h-3zM49 619h1v1h-1zM50 620h3v1h-3zM53 619h1v1h-1zM54 618h3v1h-3zM57 619h1v1h-1zM58 620h2v1h-2zM60 619h1v1h-1zM61 618h2v1h-2zM63 617h5v1h-5zM68 618h1v1h-1zM69 619h1v2h-1zM70 621h1v1h-1zM71 622h3v1h-3zM74 623h7v1h-7zM81 624h1v1h-1zM82 625h12v1h-12zM94 626h4v1h-4zM98 627h1v1h-1zM99 628h2v1h-2zM101 629h1v1h-1zM102 630h1v1h-1zM103 631h1v1h-1zM104 632h1v1h-1zM105 633h2v1h-2zM107 634h1v1h-1zM108 635h1v1h-1zM109 636h2v1h-2zM111 637h1v1h-1zM112 636h1v1h-1zM113 634h1v2h-1zM114 633h1v1h-1zM115 632h3v1h-3zM118 633h4v1h-4zM122 632h2v1h-2zM124 633h1v1h-1zM125 634h1v1h-1zM126 635h1v1h-1zM127 636h1v1h-1zM128 634h1v2h-1zM129 632h1v2h-1zM130 630h1v2h-1zM131 629h9v1h-9zM140 630h1v1h-1zM141 631h2v1h-2zM143 632h1v1h-1zM144 631h1v1h-1zM145 630h1v1h-1zM146 629h1v1h-1zM147 628h1v1h-1zM148 629h1v1h-1zM149 630h2v1h-2zM151 631h1v1h-1zM152 629h1v2h-1zM153 627h1v2h-1zM154 625h1v2h-1zM155 624h2v1h-2zM157 623h1v1h-1zM158 622h2v1h-2zM160 620h1v2h-1zM161 618h1v2h-1zM162 616h1v2h-1zM163 615h1v1h-1zM164 614h1v1h-1zM165 612h1v2h-1zM166 611h1v1h-1zM167 610h1v1h-1zM168 611h1v2h-1zM169 613h1v1h-1zM170 614h1v2h-1zM171 616h3v1h-3zM174 617h7v1h-7zM181 616h1v1h-1zM182 615h2v1h-2zM184 616h1v1h-1zM185 617h1v1h-1zM186 618h1v1h-1zM187 619h1v1h-1zM188 620h1v1h-1zM189 621h2v1h-2zM191 622h2v1h-2zM193 623h1v1h-1zM194 624h3v1h-3zM197 625h1v1h-1zM198 626h3v1h-3zM201 625h1v1h-1zM202 624h6v1h-6zM208 625h1v1h-1zM209 626h1v1h-1zM210 627h1v1h-1zM211 626h1v1h-1zM212 625h2v1h-2zM214 624h2v1h-2zM216 625h1v1h-1zM217 626h2v1h-2zM219 625h1v1h-1zM220 624h2v1h-2zM222 622h1v2h-1zM223 620h1v2h-1zM224 618h1v2h-1zM225 616h1v2h-1zM226 614h1v2h-1zM227 614h1v1h-1zM228 615h1v1h-1zM229 616h2v1h-2zM231 617h1v1h-1zM232 618h2v1h-2zM234 619h1v1h-1zM235 620h1v1h-1zM236 621h1v1h-1zM237 622h1v2h-1zM238 624h1v1h-1zM239 624h1v2h-1zM240 622h1v2h-1zM241 620h1v2h-1zM242 618h1v2h-1zM243 616h1v2h-1zM244 616h1v1h-1zM245 617h1v1h-1zM246 618h3v1h-3zM249 617h1v1h-1zM250 616h3v1h-3zM253 617h1v1h-1zM254 618h2v1h-2zM256 619h1v2h-1zM257 621h1v1h-1zM258 622h1v2h-1zM259 624h2v1h-2zM261 625h2v1h-2zM263 623h1v2h-1zM264 621h1v2h-1zM265 619h1v2h-1zM266 618h2v1h-2zM268 617h1v1h-1zM269 616h4v1h-4zM273 615h2v1h-2zM275 616h2v1h-2zM277 617h2v1h-2zM279 618h1v1h-1zM280 617h1v1h-1zM281 615h1v2h-1zM282 614h1v1h-1zM283 613h2v1h-2zM285 612h1v1h-1zM286 611h3v1h-3zM289 612h1v1h-1zM290 613h3v1h-3zM293 612h1v1h-1zM294 611h3v1h-3zM297 610h1v1h-1zM298 609h6v1h-6zM304 610h1v1h-1zM305 611h1v1h-1zM306 612h1v1h-1zM307 613h1v1h-1zM308 612h1v1h-1zM309 611h2v1h-2zM311 610h1v1h-1zM312 611h1v1h-1zM313 612h1v2h-1zM314 614h1v1h-1zM315 615h6v1h-6zM321 616h2v1h-2zM323 617h2v1h-2zM325 618h1v1h-1zM326 619h2v1h-2zM328 620h1v1h-1zM329 621h2v1h-2zM331 622h6v1h-6zM337 621h1v1h-1zM338 620h6v1h-6zM344 621h1v1h-1zM345 622h1v2h-1zM346 624h1v1h-1zM347 625h1v1h-1zM348 624h1v1h-1zM349 623h1v1h-1zM350 622h1v1h-1zM351 621h1v1h-1zM352 620h1v1h-1zM353 618h1v2h-1zM354 617h1v1h-1zM355 616h4v1h-4zM359 616h1v2h-1zM360 618h1v2h-1zM361 620h1v2h-1zM362 622h1v2h-1zM363 624h1v2h-1zM364 625h2v1h-2zM366 624h9v1h-9zM375 625h1v1h-1zM376 626h3v1h-3zM379 627h1v1h-1zM380 628h1v1h-1zM381 629h1v1h-1zM382 630h1v1h-1zM383 630h1v2h-1zM384 627h1v3h-1zM385 623h1v4h-1zM386 620h1v3h-1zM387 618h1v2h-1zM388 617h1v1h-1zM389 615h1v2h-1zM390 614h1v1h-1zM391 613h1v1h-1zM392 614h1v1h-1zM393 615h1v1h-1zM394 616h1v1h-1zM395 617h2v1h-2zM397 618h1v1h-1zM398 619h9v1h-9zM407 620h1v1h-1zM408 619h1v2h-1zM409 618h1v1h-1zM410 615h1v3h-1zM411 614h3v1h-3zM414 615h8v1h-8zM422 616h1v1h-1zM423 617h6v1h-6zM429 618h1v2h-1zM430 620h1v2h-1zM431 622h1v1h-1zM432 623h1v1h-1zM433 624h1v2h-1zM434 626h1v1h-1zM435 627h2v1h-2zM437 628h1v1h-1zM438 629h2v1h-2zM440 628h2v1h-2zM442 627h2v1h-2zM444 628h1v1h-1zM445 629h2v1h-2zM447 628h1v1h-1zM448 627h2v1h-2zM450 626h2v1h-2zM452 627h1v1h-1zM453 628h2v1h-2zM455 626h1v2h-1zM456 624h1v2h-1zM457 622h1v2h-1zM458 621h3v1h-3zM461 622h3v1h-3zM464 621h2v1h-2zM466 620h1v1h-1zM467 619h1v1h-1zM468 618h2v1h-2zM470 617h6v1h-6zM476 615h1v2h-1zM477 614h1v1h-1zM478 612h1v2h-1zM479 611h1v1h-1zM480 612h1v1h-1zM481 613h1v1h-1zM482 614h1v1h-1zM483 615h1v1h-1zM484 614h2v1h-2zM486 613h6v1h-6zM492 612h1v1h-1zM493 611h2v1h-2zM495 610h1v1h-1zM496 611h1v2h-1zM497 613h1v1h-1zM498 614h1v2h-1zM499 616h6v1h-6zM505 617h1v1h-1zM506 618h3v1h-3zM509 617h1v1h-1zM510 616h2v1h-2zM512 617h1v1h-1zM513 618h1v2h-1zM514 620h1v1h-1zM515 621h1v1h-1zM516 620h1v1h-1zM517 619h2v1h-2zM519 618h1v1h-1zM520 616h1v2h-1zM521 614h1v2h-1zM522 612h1v2h-1zM523 611h1v1h-1zM524 612h1v1h-1zM525 613h1v1h-1zM526 614h1v1h-1zM527 615h1v1h-1zM528 616h1v1h-1zM529 617h2v1h-2zM531 618h3v1h-3zM534 619h2v1h-2zM536 618h1v1h-1zM537 617h2v1h-2zM539 616h3v1h-3zM542 617h2v1h-2zM544 618h1v1h-1zM545 619h2v1h-2zM547 620h1v1h-1zM548 619h1v1h-1zM549 618h2v1h-2zM551 617h1v1h-1zM552 618h1v1h-1zM553 619h1v1h-1zM554 620h1v1h-1zM555 621h3v1h-3zM558 620h2v1h-2zM560 619h1v1h-1zM561 618h2v1h-2zM563 617h1v1h-1zM564 616h1v1h-1zM565 615h1v1h-1zM566 614h1v1h-1zM567 613h1v2h-1zM568 615h1v1h-1zM569 616h1v3h-1zM570 619h1v1h-1zM571 620h1v2h-1zM572 621h2v1h-2zM574 620h7v1h-7zM581 621h2v1h-2zM583 622h1v1h-1zM584 623h1v1h-1zM585 624h1v2h-1zM586 626h1v1h-1zM587 627h6v1h-6zM593 628h1v1h-1zM594 629h1v1h-1zM595 630h1v1h-1zM596 631h1v1h-1zM597 632h1v1h-1zM598 633h1v1h-1zM599 634h12v1h-12zM611 635h1v1h-1zM612 633h1v2h-1zM613 631h1v2h-1zM614 629h1v2h-1zM615 628h1v1h-1zM616 629h1v1h-1zM617 630h1v1h-1zM618 631h1v1h-1zM619 632h1v1h-1zM620 633h1v1h-1zM621 634h1v1h-1zM622 635h1v1h-1zM623 636h2v1h-2zM625 637h1v1h-1zM626 638h7v1h-7zM633 639h1v1h-1zM634 640h4v1h-4zM638 639h3v1h-3zM641 638h1v1h-1zM642 637h2v1h-2zM644 635h1v2h-1zM645 634h1v1h-1zM646 632h1v2h-1zM647 631h2v1h-2zM649 632h1v1h-1zM650 633h7v1h-7zM657 634h1v1h-1zM658 635h4v1h-4zM662 636h2v1h-2zM664 635h1v1h-1zM665 634h1v1h-1zM666 633h1v1h-1zM667 632h1v1h-1zM668 633h2v1h-2zM670 634h1v1h-1zM671 633h1v1h-1zM672 632h2v1h-2zM674 631h5v1h-5zM679 630h1v1h-1zM680 629h2v1h-2zM682 628h3v1h-3zM685 629h2v1h-2zM687 627h1v2h-1zM688 626h1v1h-1zM689 624h1v2h-1zM690 623h2v1h-2zM692 624h1v1h-1zM693 625h3v1h-3zM696 626h3v1h-3zM699 625h7v1h-7zM706 626h2v1h-2zM708 627h1v1h-1zM709 628h1v1h-1zM710 629h1v1h-1zM711 630h1v1h-1zM712 629h1v1h-1zM713 628h2v1h-2zM715 626h1v2h-1zM716 624h1v2h-1zM717 621h1v3h-1zM718 619h1v2h-1zM719 617h1v2h-1zM720 618h1v1h-1zM721 619h2v1h-2zM723 620h2v1h-2zM725 621h1v1h-1zM726 622h4v1h-4zM730 623h2v1h-2zM732 622h1v1h-1zM733 620h1v2h-1zM734 619h1v1h-1zM735 618h8v1h-8zM743 617h1v2h-1zM744 616h1v1h-1zM745 613h1v3h-1zM746 612h1v1h-1zM747 610h1v2h-1zM748 610h4v1h-4zM752 611h1v1h-1zM753 612h1v1h-1zM754 613h1v1h-1zM755 614h1v1h-1zM756 612h1v2h-1zM757 610h1v2h-1zM758 608h1v2h-1zM759 607h1v1h-1zM760 608h1v1h-1zM761 609h1v2h-1zM762 611h1v1h-1zM763 611h1v2h-1zM764 607h1v4h-1zM765 604h1v3h-1zM766 600h1v4h-1zM767 598h1v2h-1zM768 597h1v1h-1zM769 596h2v1h-2zM771 595h3v1h-3zM774 596h2v1h-2zM776 597h1v2h-1zM777 599h1v1h-1zM778 600h1v2h-1zM779 602h3v1h-3zM782 603h2v1h-2zM784 604h1v2h-1zM785 606h1v2h-1zM786 608h1v2h-1zM787 610h1v1h-1zM788 609h1v1h-1zM789 608h2v1h-2zM791 607h1v1h-1zM792 608h1v1h-1zM793 609h2v1h-2zM795 610h3v1h-3zM798 609h4v1h-4zM802 608h2v1h-2zM804 607h1v1h-1zM805 606h2v1h-2zM807 605h2v1h-2zM809 604h1v1h-1zM810 603h6v1h-6zM816 604h1v2h-1zM817 606h1v1h-1zM818 607h1v2h-1zM819 609h1v1h-1zM820 610h1v1h-1zM821 611h2v1h-2zM823 612h2v1h-2zM825 611h1v1h-1zM826 610h1v1h-1zM827 609h1v2h-1zM828 607h1v2h-1zM829 605h1v2h-1zM830 603h1v2h-1zM831 601h1v2h-1zM832 601h2v1h-2zM834 600h3v1h-3zM837 599h1v1h-1zM838 598h2v1h-2zM840 599h1v1h-1zM841 600h1v2h-1zM842 602h1v1h-1zM843 603h1v1h-1zM844 604h1v1h-1zM845 605h1v1h-1zM846 606h1v1h-1zM847 607h5v1h-5zM852 606h1v1h-1zM853 605h1v1h-1zM854 604h1v1h-1zM855 603h3v1h-3zM858 602h2v1h-2zM860 601h1v1h-1zM861 600h2v1h-2zM863 599h7v1h-7zM870 598h2v1h-2zM872 596h1v2h-1zM873 595h1v1h-1zM874 593h1v2h-1zM875 592h2v1h-2zM877 593h1v1h-1zM878 594h1v1h-1zM879 594h1v3h-1zM880 597h1v4h-1zM881 601h1v4h-1zM882 605h1v4h-1zM883 609h1v3h-1zM884 611h1v1h-1zM885 610h1v1h-1zM886 609h4v1h-4zM890 608h4v1h-4zM894 609h2v1h-2zM896 610h1v1h-1zM897 611h2v1h-2zM899 612h1v1h-1zM900 611h1v1h-1zM901 610h2v1h-2zM903 609h2v1h-2zM905 610h2v1h-2zM907 611h1v2h-1zM908 613h1v2h-1zM909 615h1v2h-1zM910 617h1v2h-1zM911 619h1v1h-1zM912 618h2v1h-2zM914 617h3v1h-3zM917 616h4v1h-4zM921 617h2v1h-2z" fill="#1e90ff"/>
</g>
<g shape-rendering="crispEdges">
<rect x="2" y="23" width="1" height="636" fill="#000"/>
<rect x="1165" y="23" width="1" height="636" fill="#000"/>
<rect x="2" y="23" width="1164" height="1" fill="#000"/>
<rect x="2" y="483" width="1164" height="1" fill="#000"/>
<rect x="2" y="484" width="1164" height="1" fill="#fff"/>
<rect x="2" y="485" width="1164" height="1" fill="#000"/>
<rect x="2" y="569" width="1164" height="1" fill="#000"/>
<rect x="2" y="570" width="1164" height="1" fill="#fff"/>
<rect x="2" y="571" width="1164" height="1" fill="#000"/>
<rect x="2" y="658" width="1164" height="1" fill="#000"/>
<rect x="2" y="210" width="6" height="6" fill="#ff0000"/>
<rect x="4" y="212" width="2" height="2" fill="#fff"/>
<rect x="2" y="259" width="6" height="6" fill="#00ff00"/>
<rect x="4" y="261" width="2" height="2" fill="#fff"/>
<rect x="2" y="311" width="6" height="6" fill="#0000ff"/>
<rect x="4" y="313" width="2" height="2" fill="#fff"/>
<rect x="2" y="369" width="6" height="6" fill="#0000ff"/>
<rect x="4" y="371" width="2" height="2" fill="#fff"/>
<rect x="1159" y="210" width="6" height="6" fill="#ff0000"/>
<rect x="1161" y="212" width="2" height="2" fill="#fff"/>
<rect x="1159" y="259" width="6" height="6" fill="#00ff00"/>
<rect x="1161" y="261" width="2" height="2" fill="#fff"/>
<rect x="1159" y="311" width="6" height="6" fill="#0000ff"/>
<rect x="1161" y="313" width="2" height="2" fill="#fff"/>
<rect x="1159" y="369" width="6" height="6" fill="#0000ff"/>
<rect x="1161" y="371" width="2" height="2" fill="#fff"/>
<rect x="1166" y="51" width="2" height="1" fill="#000"/>
<rect x="1166" y="84" width="2" height="1" fill="#000"/>
<rect x="1166" y="117" width="2" height="1" fill="#000"/>
<rect x="1166" y="150" width="2" height="1" fill="#000"/>
<rect x="1166" y="183" width="2" height="1" fill="#000"/>
<rect x="1166" y="216" width="2" height="1" fill="#000"/>
<rect x="1166" y="249" width="2" height="1" fill="#000"/>
<rect x="1166" y="282" width="2" height="1" fill="#000"/>
<rect x="1166" y="315" width="2" height="1" fill="#000"/>
<rect x="1166" y="348" width="2" height="1" fill="#000"/>
<rect x="1166" y="381" width="2" height="1" fill="#000"/>
<rect x="1166" y="414" width="2" height="1" fill="#000"/>
<rect x="1166" y="447" width="2" height="1" fill="#000"/>
<rect x="1166" y="480" width="2" height="1" fill="#000"/>
<rect x="1166" y="486" width="1" height="1" fill="#000"/>
<rect x="1166" y="527" width="2" height="1" fill="#000"/>
<rect x="1166" y="568" width="1" height="1" fill="#000"/>
<rect x="1166" y="572" width="1" height="1" fill="#000"/>
<rect x="1166" y="657" width="1" height="1" fill="#000"/>
<rect x="3" y="659" width="1" height="3" fill="#000"/>
<rect x="67" y="659" width="1" height="3" fill="#000"/>
<rect x="131" y="659" width="1" height="3" fill="#000"/>
<rect x="195" y="659" width="1" height="3" fill="#000"/>
<rect x="259" y="659" width="1" height="3" fill="#000"/>
<rect x="323" y="659" width="1" height="3" fill="#000"/>
<rect x="387" y="659" width="1" height="3" fill="#000"/>
<rect x="451" y="659" width="1" height="3" fill="#000"/>
<rect x="515" y="659" width="1" height="3" fill="#000"/>
<rect x="579" y="659" width="1" height="3" fill="#000"/>
<rect x="643" y="659" width="1" height="3" fill="#000"/>
<rect x="707" y="659" width="1" height="3" fill="#000"/>
<rect x="771" y="659" width="1" height="3" fill="#000"/>
<rect x="835" y="659" width="1" height="3" fill="#000"/>
<rect x="899" y="659" width="1" height="3" fill="#000"/>
</g>
<text x="1171" y="55" font-size="9.8" fill="#000" textLength="33.2" lengthAdjust="spacingAndGlyphs" stroke="#000" stroke-width="0.2">1.32840</text>
<text x="1171" y="88" font-size="9.8" fill="#000" textLength="33.2" lengthAdjust="spacingAndGlyphs" stroke="#000" stroke-width="0.2">1.31820</text>
<text x="1171" y="121" font-size="9.8" fill="#000" textLength="33.2" lengthAdjust="spacingAndGlyphs" stroke="#000" stroke-width="0.2">1.30830</text>
<text x="1171" y="154" font-size="9.8" fill="#000" textLength="33.2" lengthAdjust="spacingAndGlyphs" stroke="#000" stroke-width="0.2">1.29840</text>
<text x="1171" y="187" font-size="9.8" fill="#000" textLength="33.2" lengthAdjust="spacingAndGlyphs" stroke="#000" stroke-width="0.2">1.28820</text>
<text x="1171" y="220" font-size="9.8" fill="#000" textLength="33.2" lengthAdjust="spacingAndGlyphs" stroke="#000" stroke-width="0.2">1.27830</text>
<text x="1171" y="253" font-size="9.8" fill="#000" textLength="33.2" lengthAdjust="spacingAndGlyphs" stroke="#000" stroke-width="0.2">1.26810</text>
<text x="1171" y="286" font-size="9.8" fill="#000" textLength="33.2" lengthAdjust="spacingAndGlyphs" stroke="#000" stroke-width="0.2">1.25820</text>
<text x="1171" y="319" font-size="9.8" fill="#000" textLength="33.2" lengthAdjust="spacingAndGlyphs" stroke="#000" stroke-width="0.2">1.24830</text>
<text x="1171" y="352" font-size="9.8" fill="#000" textLength="33.2" lengthAdjust="spacingAndGlyphs" stroke="#000" stroke-width="0.2">1.23810</text>
<text x="1171" y="385" font-size="9.8" fill="#000" textLength="33.2" lengthAdjust="spacingAndGlyphs" stroke="#000" stroke-width="0.2">1.22820</text>
<text x="1171" y="418" font-size="9.8" fill="#000" textLength="33.2" lengthAdjust="spacingAndGlyphs" stroke="#000" stroke-width="0.2">1.21800</text>
<text x="1171" y="451" font-size="9.8" fill="#000" textLength="33.2" lengthAdjust="spacingAndGlyphs" stroke="#000" stroke-width="0.2">1.20810</text>
<text x="1171" y="484" font-size="9.8" fill="#000" textLength="33.2" lengthAdjust="spacingAndGlyphs" stroke="#000" stroke-width="0.2">1.19820</text>
<text x="1169.2" y="496" font-size="9.8" fill="#000" textLength="33.2" lengthAdjust="spacingAndGlyphs" stroke="#000" stroke-width="0.2">0.01135</text>
<text x="1169.3" y="531" font-size="9.8" fill="#000" textLength="18" lengthAdjust="spacingAndGlyphs" stroke="#000" stroke-width="0.2">0.00</text>
<text x="1169.4" y="566" font-size="9.8" fill="#000" textLength="39" lengthAdjust="spacingAndGlyphs" stroke="#000" stroke-width="0.2">-0.01190</text>
<text x="1169.2" y="582" font-size="9.8" fill="#000" textLength="15" lengthAdjust="spacingAndGlyphs" stroke="#000" stroke-width="0.2">100</text>
<text x="1168.8" y="602" font-size="9.8" fill="#000" textLength="9.8" lengthAdjust="spacingAndGlyphs" stroke="#000" stroke-width="0.2">70</text>
<text x="1168.6" y="636" font-size="9.8" fill="#000" textLength="10.2" lengthAdjust="spacingAndGlyphs" stroke="#000" stroke-width="0.2">30</text>
<text x="1169.4" y="655" font-size="9.8" fill="#000" textLength="5" lengthAdjust="spacingAndGlyphs" stroke="#000" stroke-width="0.2">0</text>
<rect x="1167" y="314" width="39" height="11" fill="#000" shape-rendering="crispEdges"/>
<text x="1171" y="323" font-size="9.8" fill="#fff" textLength="33.2" lengthAdjust="spacingAndGlyphs" stroke="#fff" stroke-width="0.2">1.24696</text>
<rect x="1167" y="153" width="39" height="11" fill="#ff0000" shape-rendering="crispEdges"/>
<text x="1171" y="162" font-size="9.8" fill="#fff" textLength="33.2" lengthAdjust="spacingAndGlyphs" stroke="#fff" stroke-width="0.2">1.29559</text>
<rect x="1167" y="207" width="39" height="11" fill="#ff0000" shape-rendering="crispEdges"/>
<text x="1171" y="216" font-size="9.8" fill="#fff" textLength="33.2" lengthAdjust="spacingAndGlyphs" stroke="#fff" stroke-width="0.2">1.27906</text>
<rect x="1167" y="256" width="39" height="11" fill="#00ff00" shape-rendering="crispEdges"/>
<text x="1171" y="265" font-size="9.8" fill="#fff" textLength="33.2" lengthAdjust="spacingAndGlyphs" stroke="#fff" stroke-width="0.2">1.26416</text>
<rect x="1167" y="308" width="39" height="11" fill="#0000ff" shape-rendering="crispEdges"/>
<text x="1171" y="317" font-size="9.8" fill="#fff" textLength="33.2" lengthAdjust="spacingAndGlyphs" stroke="#fff" stroke-width="0.2">1.24861</text>
<rect x="1167" y="366" width="39" height="11" fill="#0000ff" shape-rendering="crispEdges"/>
<text x="1171" y="375" font-size="9.8" fill="#fff" textLength="33.2" lengthAdjust="spacingAndGlyphs" stroke="#fff" stroke-width="0.2">1.23079</text>
<text x="2" y="671" font-size="9.8" fill="#000" textLength="49.199999999999996" lengthAdjust="spacingAndGlyphs" stroke="#000" stroke-width="0.2">4 Nov 2020</text>
<text x="66" y="671" font-size="9.8" fill="#000" textLength="54.099999999999994" lengthAdjust="spacingAndGlyphs" stroke="#000" stroke-width="0.2">23 Nov 2020</text>
<text x="130" y="671" font-size="9.8" fill="#000" textLength="51.3" lengthAdjust="spacingAndGlyphs" stroke="#000" stroke-width="0.2">11 Dec 2020</text>
<text x="194" y="671" font-size="9.8" fill="#000" textLength="52.0" lengthAdjust="spacingAndGlyphs" stroke="#000" stroke-width="0.2">31 Dec 2020</text>
<text x="258" y="671" font-size="9.8" fill="#000" textLength="49.9" lengthAdjust="spacingAndGlyphs" stroke="#000" stroke-width="0.2">20 Jan 2021</text>
<text x="322" y="671" font-size="9.8" fill="#000" textLength="46.699999999999996" lengthAdjust="spacingAndGlyphs" stroke="#000" stroke-width="0.2">8 Feb 2021</text>
<text x="386" y="671" font-size="9.8" fill="#000" textLength="52.3" lengthAdjust="spacingAndGlyphs" stroke="#000" stroke-width="0.2">26 Feb 2021</text>
<text x="450" y="671" font-size="9.8" fill="#000" textLength="51.8" lengthAdjust="spacingAndGlyphs" stroke="#000" stroke-width="0.2">17 Mar 2021</text>
<text x="514" y="671" font-size="9.8" fill="#000" textLength="46.099999999999994" lengthAdjust="spacingAndGlyphs" stroke="#000" stroke-width="0.2">5 Apr 2021</text>
<text x="578" y="671" font-size="9.8" fill="#000" textLength="51.3" lengthAdjust="spacingAndGlyphs" stroke="#000" stroke-width="0.2">23 Apr 2021</text>
<text x="642" y="671" font-size="9.8" fill="#000" textLength="55.0" lengthAdjust="spacingAndGlyphs" stroke="#000" stroke-width="0.2">12 May 2021</text>
<text x="706" y="671" font-size="9.8" fill="#000" textLength="55.0" lengthAdjust="spacingAndGlyphs" stroke="#000" stroke-width="0.2">31 May 2021</text>
<text x="770" y="671" font-size="9.8" fill="#000" textLength="49.3" lengthAdjust="spacingAndGlyphs" stroke="#000" stroke-width="0.2">18 Jun 2021</text>
<text x="834" y="671" font-size="9.8" fill="#000" textLength="42.099999999999994" lengthAdjust="spacingAndGlyphs" stroke="#000" stroke-width="0.2">7 Jul 2021</text>
<text x="898" y="671" font-size="9.8" fill="#000" textLength="47.099999999999994" lengthAdjust="spacingAndGlyphs" stroke="#000" stroke-width="0.2">26 Jul 2021</text>
<text x="7" y="498" font-size="9.8" fill="#000" textLength="66.4" lengthAdjust="spacingAndGlyphs" stroke="#000" stroke-width="0.2">MACD(12,26,9)</text>
<text x="75.8" y="498" font-size="9.8" fill="#000" textLength="38.2" lengthAdjust="spacingAndGlyphs" stroke="#000" stroke-width="0.2">0.002044</text>
<text x="116.8" y="498" font-size="9.8" fill="#000" textLength="38.2" lengthAdjust="spacingAndGlyphs" stroke="#000" stroke-width="0.2">0.005241</text>
<text x="7" y="584" font-size="9.8" fill="#000" textLength="68" lengthAdjust="spacingAndGlyphs" stroke="#000" stroke-width="0.2">RSI(14) 47.7381</text>
<defs>
<linearGradient id="gb" gradientUnits="userSpaceOnUse" x1="0" y1="43" x2="0" y2="100"><stop offset="0" stop-color="#3a3ae0"/><stop offset="0.1" stop-color="#5858ff"/><stop offset="0.43" stop-color="#3030e6"/><stop offset="1" stop-color="#0000a4"/></linearGradient>
<linearGradient id="gg" x1="0" y1="0" x2="0" y2="1"><stop offset="0" stop-color="#f4f4f4"/><stop offset="0.45" stop-color="#e6e6e6"/><stop offset="0.5" stop-color="#d6d6d6"/><stop offset="1" stop-color="#cfcfcf"/></linearGradient>
</defs>
<rect x="5" y="42" width="222" height="60" fill="#fff" shape-rendering="crispEdges"/>
<g shape-rendering="crispEdges">
<path d="M6 43H58V67H115V100H6Z" fill="url(#gb)"/>
<path d="M173 43H225V100H117V67H173Z" fill="url(#gb)"/>
<rect x="10" y="66.4" width="44" height="1" fill="#9494ee" shape-rendering="auto"/><rect x="177" y="66.4" width="44" height="1" fill="#9494ee" shape-rendering="auto"/>
<rect x="60" y="43" width="111" height="22" fill="#a8a8a8"/>
<rect x="61" y="44" width="109" height="20" fill="#fff"/>
<rect x="62" y="45" width="19" height="18" fill="url(#gg)"/>
<rect x="81" y="44" width="1" height="20" fill="#b4b4b4"/>
<rect x="150" y="45" width="19" height="18" fill="url(#gg)"/>
<rect x="149" y="44" width="1" height="20" fill="#b4b4b4"/>
</g>
<path d="M68 52h5l-2.5 3z" fill="#4a62c0"/>
<path d="M157 55h5l-2.5 -3z" fill="#4a62c0"/>
<text x="18.2" y="58.8" font-size="12.5" fill="#fff" textLength="25.6" lengthAdjust="spacingAndGlyphs">SELL</text>
<text x="186.4" y="58.8" font-size="12.5" fill="#fff" textLength="23.2" lengthAdjust="spacingAndGlyphs">BUY</text>
<text x="122" y="58.1" font-size="13" fill="#000" textLength="23.6" lengthAdjust="spacingAndGlyphs" stroke="#000" stroke-width="0.25">3.00</text>
<text x="26.2" y="94.6" font-size="12" fill="#fff" font-weight="bold" textLength="23.8" lengthAdjust="spacingAndGlyphs" stroke="#fff" stroke-width="0.15">1.24</text>
<text x="136.2" y="94.6" font-size="12" fill="#fff" font-weight="bold" textLength="23.8" lengthAdjust="spacingAndGlyphs" stroke="#fff" stroke-width="0.15">1.24</text>
<text x="53" y="94.8" font-size="35.3" fill="#fff" textLength="36.4" lengthAdjust="spacingAndGlyphs" stroke="url(#gb)" stroke-width="0.4">69</text>
<text x="164" y="94.8" font-size="35.3" fill="#fff" textLength="36.2" lengthAdjust="spacingAndGlyphs" stroke="url(#gb)" stroke-width="0.4">71</text>
<text x="92.8" y="78.7" font-size="10.5" fill="#fff" font-weight="bold" textLength="7" lengthAdjust="spacingAndGlyphs" stroke="#fff" stroke-width="0.2">9</text>
<text x="204.4" y="78.7" font-size="10.5" fill="#fff" font-weight="bold" textLength="7" lengthAdjust="spacingAndGlyphs" stroke="#fff" stroke-width="0.2">3</text>
<path d="M6 34h7l-3.5 -4z" fill="#000"/>
<text x="18" y="35" font-size="9.8" fill="#000" textLength="66" lengthAdjust="spacingAndGlyphs" stroke="#000" stroke-width="0.2">USDCAD,Daily</text>
<text x="89.6" y="35" font-size="9.8" fill="#000" textLength="33.6" lengthAdjust="spacingAndGlyphs" stroke="#000" stroke-width="0.2">1.24696</text>
<text x="125.6" y="35" font-size="9.8" fill="#000" textLength="33.6" lengthAdjust="spacingAndGlyphs" stroke="#000" stroke-width="0.2">1.24725</text>
<text x="161.4" y="35" font-size="9.8" fill="#000" textLength="33.6" lengthAdjust="spacingAndGlyphs" stroke="#000" stroke-width="0.2">1.24679</text>
<text x="197.2" y="35" font-size="9.8" fill="#000" textLength="33.6" lengthAdjust="spacingAndGlyphs" stroke="#000" stroke-width="0.2">1.24696</text>
<g shape-rendering="crispEdges">
<rect x="0" y="679" width="1206" height="1" fill="#e6e6e6"/>
<rect x="0" y="681" width="1206" height="1" fill="#000"/>
<rect x="0" y="682" width="1206" height="19" fill="#f0f0f0"/>
<rect x="0" y="701" width="1206" height="1" fill="#fcfcfc"/>
<rect x="0" y="702" width="1206" height="3" fill="#f0f0f0"/>
<rect x="0" y="705" width="1206" height="1" fill="#a0a0a0"/>
<rect x="0" y="706" width="1206" height="1" fill="#e8e8e8"/>
<rect x="289" y="681" width="103" height="19" fill="#fff"/>
<rect x="288" y="681" width="1" height="19" fill="#000"/>
<rect x="288" y="699" width="104" height="1" fill="#000"/>
<rect x="391" y="681" width="1" height="19" fill="#000"/>
<rect x="392" y="682" width="1" height="18" fill="#808080"/>
<rect x="96" y="684" width="1" height="14" fill="#808080"/>
<rect x="200" y="684" width="1" height="14" fill="#808080"/>
<rect x="496" y="684" width="1" height="14" fill="#808080"/>
<rect x="572" y="684" width="1" height="14" fill="#808080"/>
<rect x="640" y="684" width="1" height="14" fill="#808080"/>
<rect x="716" y="684" width="1" height="14" fill="#808080"/>
<rect x="808" y="684" width="1" height="14" fill="#808080"/>
<rect x="900" y="684" width="1" height="14" fill="#808080"/>
</g>
<text x="16" y="696" font-size="12" fill="#7a7a7a" textLength="68" lengthAdjust="spacingAndGlyphs">EURUSD,H4</text>
<text x="107.2" y="696" font-size="12" fill="#7a7a7a" textLength="82.2" lengthAdjust="spacingAndGlyphs">AUDUSD,Daily</text>
<text x="210" y="696" font-size="12" fill="#7a7a7a" textLength="67.4" lengthAdjust="spacingAndGlyphs">USDCHF,H4</text>
<text x="402" y="696" font-size="12" fill="#7a7a7a" textLength="83.4" lengthAdjust="spacingAndGlyphs">USDCNH,Daily</text>
<text x="507.6" y="696" font-size="12" fill="#7a7a7a" textLength="52.4" lengthAdjust="spacingAndGlyphs">UKOil,H4</text>
<text x="581.6" y="696" font-size="12" fill="#7a7a7a" textLength="47.6" lengthAdjust="spacingAndGlyphs">DJ30,H1</text>
<text x="652" y="696" font-size="12" fill="#7a7a7a" textLength="52" lengthAdjust="spacingAndGlyphs">USDX,H1</text>
<text x="726.4" y="696" font-size="12" fill="#7a7a7a" textLength="69.6" lengthAdjust="spacingAndGlyphs">XAUUSD,H1</text>
<text x="820" y="696" font-size="12" fill="#7a7a7a" textLength="68" lengthAdjust="spacingAndGlyphs">GBPUSD,H1</text>
<text x="299.2" y="696" font-size="12" fill="#000" textLength="81" lengthAdjust="spacingAndGlyphs">USDCAD,Daily</text>
<path d="M1184.6 686.8v6.6l-3.8 -3.3z" fill="#999"/>
<path d="M1200 686.8v6.6l3.6 -3.3z" fill="#999"/></svg></body></html>
